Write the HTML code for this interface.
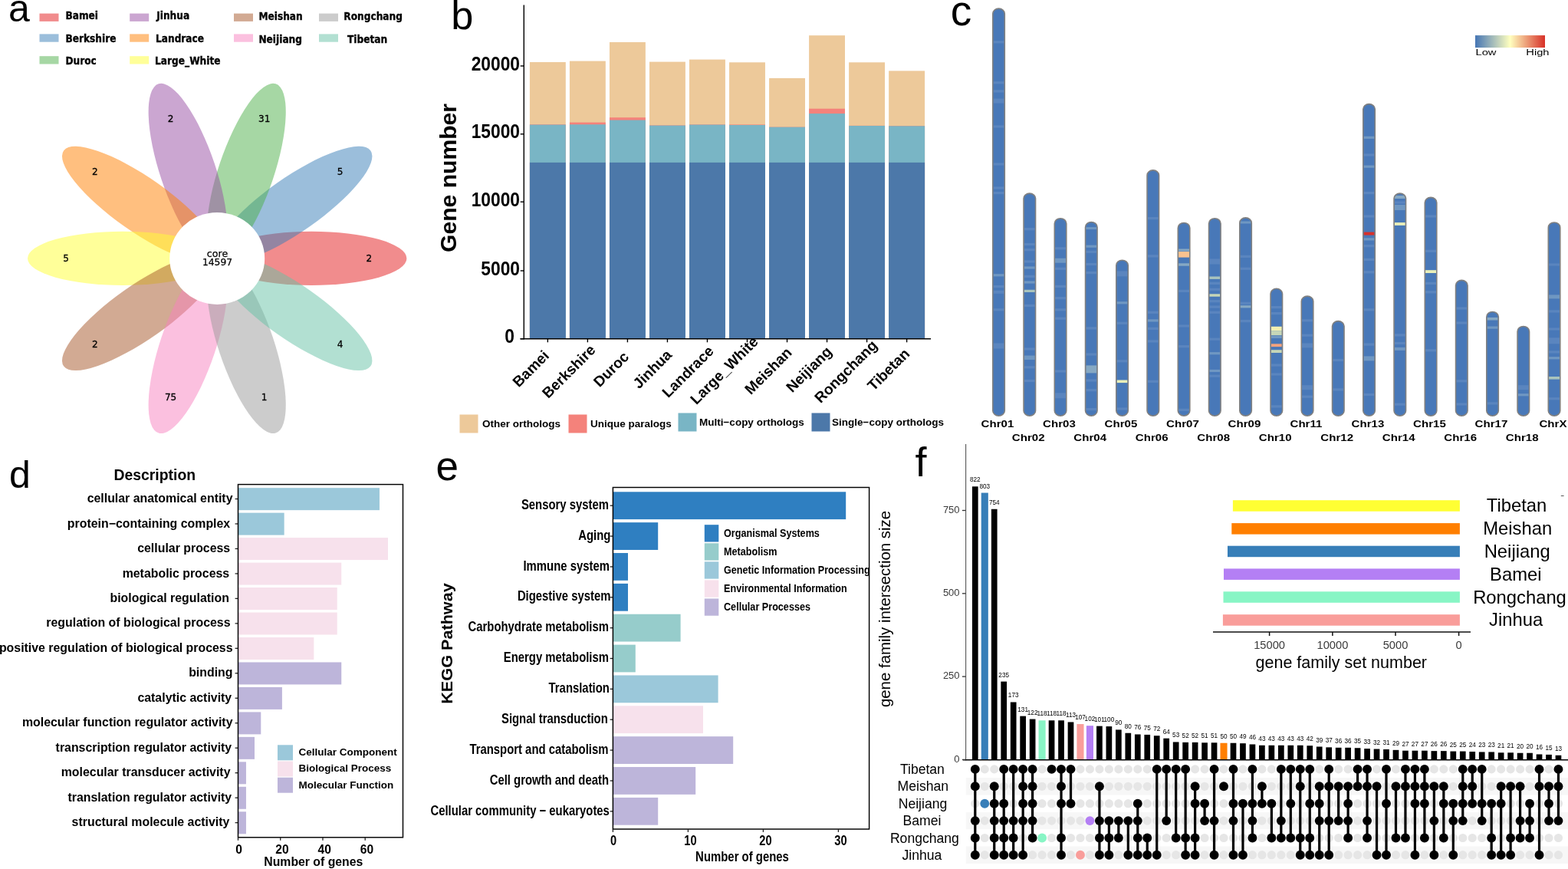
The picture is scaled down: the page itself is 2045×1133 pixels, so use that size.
<!DOCTYPE html>
<html lang="en"><head><meta charset="utf-8"><title>Pan-genome figure</title>
<style>
html,body{margin:0;padding:0;background:#fff;}
body{width:2045px;height:1133px;overflow:hidden;}
svg{display:block;}
text{font-family:"Liberation Sans",sans-serif;}
.lb{font-weight:bold;}
.d{font-family:"DejaVu Sans","Liberation Sans",sans-serif;}
.db{font-family:"DejaVu Sans","Liberation Sans",sans-serif;font-weight:bold;}
</style></head><body>
<svg width="2045" height="1133" viewBox="0 0 2045 1133">
<rect width="2045" height="1133" fill="#fff"/>
<g id="panel-a">
<text class="l" x="11.00" y="28.00" font-size="50">a</text>
<g transform="translate(283.2,336.9) scale(1,0.968)">
<ellipse cx="123" cy="0" rx="124.2" ry="36.2" fill="#E41A1C" fill-opacity="0.5" transform="rotate(0)"/>
<ellipse cx="123" cy="0" rx="124.2" ry="36.2" fill="#377EB8" fill-opacity="0.5" transform="rotate(-36)"/>
<ellipse cx="123" cy="0" rx="124.2" ry="36.2" fill="#4DAF4A" fill-opacity="0.5" transform="rotate(-72)"/>
<ellipse cx="123" cy="0" rx="124.2" ry="36.2" fill="#984EA3" fill-opacity="0.5" transform="rotate(-108)"/>
<ellipse cx="123" cy="0" rx="124.2" ry="36.2" fill="#FF7F00" fill-opacity="0.5" transform="rotate(-144)"/>
<ellipse cx="123" cy="0" rx="124.2" ry="36.2" fill="#FFFF33" fill-opacity="0.5" transform="rotate(-180)"/>
<ellipse cx="123" cy="0" rx="124.2" ry="36.2" fill="#A65628" fill-opacity="0.5" transform="rotate(-216)"/>
<ellipse cx="123" cy="0" rx="124.2" ry="36.2" fill="#F781BF" fill-opacity="0.5" transform="rotate(-252)"/>
<ellipse cx="123" cy="0" rx="124.2" ry="36.2" fill="#999999" fill-opacity="0.5" transform="rotate(-288)"/>
<ellipse cx="123" cy="0" rx="124.2" ry="36.2" fill="#66C2A5" fill-opacity="0.5" transform="rotate(-324)"/>
<circle cx="0" cy="0" r="62" fill="#fff"/>
</g>
<text class="d" x="481.20" y="340.50" font-size="12" text-anchor="middle" stroke="#000" stroke-width="0.3">2</text>
<text class="d" x="443.46" y="228.07" font-size="12" text-anchor="middle" stroke="#000" stroke-width="0.3">5</text>
<text class="d" x="344.66" y="158.58" font-size="12" text-anchor="middle" stroke="#000" stroke-width="0.3">31</text>
<text class="d" x="222.54" y="158.58" font-size="12" text-anchor="middle" stroke="#000" stroke-width="0.3">2</text>
<text class="d" x="123.74" y="228.07" font-size="12" text-anchor="middle" stroke="#000" stroke-width="0.3">2</text>
<text class="d" x="86.00" y="340.50" font-size="12" text-anchor="middle" stroke="#000" stroke-width="0.3">5</text>
<text class="d" x="123.74" y="452.93" font-size="12" text-anchor="middle" stroke="#000" stroke-width="0.3">2</text>
<text class="d" x="222.54" y="522.42" font-size="12" text-anchor="middle" stroke="#000" stroke-width="0.3">75</text>
<text class="d" x="344.66" y="522.42" font-size="12" text-anchor="middle" stroke="#000" stroke-width="0.3">1</text>
<text class="d" x="443.46" y="452.93" font-size="12" text-anchor="middle" stroke="#000" stroke-width="0.3">4</text>
<text class="d" x="283.50" y="334.90" font-size="12.6" text-anchor="middle" stroke="#000" stroke-width="0.25">core</text>
<text class="d" x="283.50" y="346.10" font-size="12.3" text-anchor="middle" stroke="#000" stroke-width="0.25">14597</text>
<rect x="51.50" y="17.60" width="25.00" height="10.30" fill="#E41A1C" fill-opacity="0.5"/>
<text class="db" transform="translate(85.40,25.20) scale(0.89,1)" font-size="13.7" stroke="#000" stroke-width="0.35">Bamei</text>
<rect x="169.20" y="17.60" width="25.00" height="10.30" fill="#984EA3" fill-opacity="0.5"/>
<text class="db" transform="translate(204.20,25.20) scale(0.89,1)" font-size="13.7" stroke="#000" stroke-width="0.35">Jinhua</text>
<rect x="305.00" y="17.60" width="25.00" height="10.30" fill="#A65628" fill-opacity="0.5"/>
<text class="db" transform="translate(337.40,26.00) scale(0.89,1)" font-size="13.7" stroke="#000" stroke-width="0.35">Meishan</text>
<rect x="416.00" y="17.60" width="25.00" height="10.30" fill="#999999" fill-opacity="0.5"/>
<text class="db" transform="translate(448.30,26.00) scale(0.89,1)" font-size="13.7" stroke="#000" stroke-width="0.35">Rongchang</text>
<rect x="51.50" y="44.40" width="25.00" height="10.30" fill="#377EB8" fill-opacity="0.5"/>
<text class="db" transform="translate(85.40,55.40) scale(0.89,1)" font-size="13.7" stroke="#000" stroke-width="0.35">Berkshire</text>
<rect x="169.20" y="44.40" width="25.00" height="10.30" fill="#FF7F00" fill-opacity="0.5"/>
<text class="db" transform="translate(203.00,55.40) scale(0.89,1)" font-size="13.7" stroke="#000" stroke-width="0.35">Landrace</text>
<rect x="305.00" y="44.40" width="25.00" height="10.30" fill="#F781BF" fill-opacity="0.5"/>
<text class="db" transform="translate(337.40,56.20) scale(0.89,1)" font-size="13.7" stroke="#000" stroke-width="0.35">Neijiang</text>
<rect x="416.00" y="44.40" width="25.00" height="10.30" fill="#66C2A5" fill-opacity="0.5"/>
<text class="db" transform="translate(453.00,56.20) scale(0.89,1)" font-size="13.7" stroke="#000" stroke-width="0.35">Tibetan</text>
<rect x="51.50" y="73.20" width="25.00" height="10.30" fill="#4DAF4A" fill-opacity="0.5"/>
<text class="db" transform="translate(85.40,84.20) scale(0.89,1)" font-size="13.7" stroke="#000" stroke-width="0.35">Duroc</text>
<rect x="169.20" y="73.20" width="25.00" height="10.30" fill="#FFFF33" fill-opacity="0.5"/>
<text class="db" transform="translate(202.10,84.20) scale(0.89,1)" font-size="13.7" stroke="#000" stroke-width="0.35">Large_White</text>
</g>
<g id="panel-b">
<text class="l" x="588.30" y="38.00" font-size="52.3">b</text>
<rect x="690.90" y="81.00" width="46.90" height="360.70" fill="#EDC99A"/>
<rect x="690.90" y="162.30" width="46.90" height="279.40" fill="#F4827B"/>
<rect x="690.90" y="162.60" width="46.90" height="279.10" fill="#79B5C5"/>
<rect x="690.90" y="211.90" width="46.90" height="229.80" fill="#4C78A9"/>
<rect x="742.93" y="79.60" width="46.90" height="362.10" fill="#EDC99A"/>
<rect x="742.93" y="159.60" width="46.90" height="282.10" fill="#F4827B"/>
<rect x="742.93" y="162.30" width="46.90" height="279.40" fill="#79B5C5"/>
<rect x="742.93" y="211.90" width="46.90" height="229.80" fill="#4C78A9"/>
<rect x="794.96" y="55.00" width="46.90" height="386.70" fill="#EDC99A"/>
<rect x="794.96" y="153.20" width="46.90" height="288.50" fill="#F4827B"/>
<rect x="794.96" y="156.60" width="46.90" height="285.10" fill="#79B5C5"/>
<rect x="794.96" y="211.90" width="46.90" height="229.80" fill="#4C78A9"/>
<rect x="846.99" y="80.60" width="46.90" height="361.10" fill="#EDC99A"/>
<rect x="846.99" y="163.40" width="46.90" height="278.30" fill="#F4827B"/>
<rect x="846.99" y="163.60" width="46.90" height="278.10" fill="#79B5C5"/>
<rect x="846.99" y="211.90" width="46.90" height="229.80" fill="#4C78A9"/>
<rect x="899.02" y="77.60" width="46.90" height="364.10" fill="#EDC99A"/>
<rect x="899.02" y="162.40" width="46.90" height="279.30" fill="#F4827B"/>
<rect x="899.02" y="162.60" width="46.90" height="279.10" fill="#79B5C5"/>
<rect x="899.02" y="211.90" width="46.90" height="229.80" fill="#4C78A9"/>
<rect x="951.05" y="81.30" width="46.90" height="360.40" fill="#EDC99A"/>
<rect x="951.05" y="162.40" width="46.90" height="279.30" fill="#F4827B"/>
<rect x="951.05" y="163.00" width="46.90" height="278.70" fill="#79B5C5"/>
<rect x="951.05" y="211.90" width="46.90" height="229.80" fill="#4C78A9"/>
<rect x="1003.08" y="101.90" width="46.90" height="339.80" fill="#EDC99A"/>
<rect x="1003.08" y="165.60" width="46.90" height="276.10" fill="#F4827B"/>
<rect x="1003.08" y="165.70" width="46.90" height="276.00" fill="#79B5C5"/>
<rect x="1003.08" y="211.90" width="46.90" height="229.80" fill="#4C78A9"/>
<rect x="1055.11" y="46.20" width="46.90" height="395.50" fill="#EDC99A"/>
<rect x="1055.11" y="141.70" width="46.90" height="300.00" fill="#F4827B"/>
<rect x="1055.11" y="148.10" width="46.90" height="293.60" fill="#79B5C5"/>
<rect x="1055.11" y="211.90" width="46.90" height="229.80" fill="#4C78A9"/>
<rect x="1107.14" y="81.30" width="46.90" height="360.40" fill="#EDC99A"/>
<rect x="1107.14" y="163.80" width="46.90" height="277.90" fill="#F4827B"/>
<rect x="1107.14" y="164.00" width="46.90" height="277.70" fill="#79B5C5"/>
<rect x="1107.14" y="211.90" width="46.90" height="229.80" fill="#4C78A9"/>
<rect x="1159.17" y="92.40" width="46.90" height="349.30" fill="#EDC99A"/>
<rect x="1159.17" y="164.10" width="46.90" height="277.60" fill="#F4827B"/>
<rect x="1159.17" y="164.30" width="46.90" height="277.40" fill="#79B5C5"/>
<rect x="1159.17" y="211.90" width="46.90" height="229.80" fill="#4C78A9"/>
<line x1="683.30" y1="6.50" x2="683.30" y2="442.40" stroke="#000" stroke-width="1.4"/>
<line x1="678.50" y1="441.70" x2="1214.00" y2="441.70" stroke="#000" stroke-width="1.4"/>
<line x1="678.70" y1="441.70" x2="683.30" y2="441.70" stroke="#000" stroke-width="1.4"/>
<text class="lb" transform="translate(671.00,447.30) scale(0.912,1)" font-size="25" text-anchor="end">0</text>
<line x1="678.70" y1="353.00" x2="683.30" y2="353.00" stroke="#000" stroke-width="1.4"/>
<text class="lb" transform="translate(678.00,358.60) scale(0.912,1)" font-size="25" text-anchor="end">5000</text>
<line x1="678.70" y1="263.20" x2="683.30" y2="263.20" stroke="#000" stroke-width="1.4"/>
<text class="lb" transform="translate(678.00,268.80) scale(0.912,1)" font-size="25" text-anchor="end">10000</text>
<line x1="678.70" y1="174.80" x2="683.30" y2="174.80" stroke="#000" stroke-width="1.4"/>
<text class="lb" transform="translate(678.00,180.40) scale(0.912,1)" font-size="25" text-anchor="end">15000</text>
<line x1="678.70" y1="86.00" x2="683.30" y2="86.00" stroke="#000" stroke-width="1.4"/>
<text class="lb" transform="translate(678.00,91.60) scale(0.912,1)" font-size="25" text-anchor="end">20000</text>
<line x1="714.35" y1="441.70" x2="714.35" y2="446.30" stroke="#000" stroke-width="1.4"/>
<text class="lb" transform="translate(696.95,485.30) rotate(-45)" font-size="19.3" text-anchor="middle">Bamei</text>
<line x1="766.38" y1="441.70" x2="766.38" y2="446.30" stroke="#000" stroke-width="1.4"/>
<text class="lb" transform="translate(746.48,488.90) rotate(-45)" font-size="19.3" text-anchor="middle">Berkshire</text>
<line x1="818.41" y1="441.70" x2="818.41" y2="446.30" stroke="#000" stroke-width="1.4"/>
<text class="lb" transform="translate(801.71,486.00) rotate(-45)" font-size="19.3" text-anchor="middle">Duroc</text>
<line x1="870.44" y1="441.70" x2="870.44" y2="446.30" stroke="#000" stroke-width="1.4"/>
<text class="lb" transform="translate(855.44,485.80) rotate(-45)" font-size="19.3" text-anchor="middle">Jinhua</text>
<line x1="922.47" y1="441.70" x2="922.47" y2="446.30" stroke="#000" stroke-width="1.4"/>
<text class="lb" transform="translate(901.77,489.20) rotate(-45)" font-size="19.3" text-anchor="middle">Landrace</text>
<line x1="974.50" y1="441.70" x2="974.50" y2="446.30" stroke="#000" stroke-width="1.4"/>
<text class="lb" transform="translate(949.20,487.50) rotate(-45)" font-size="19.3" text-anchor="middle">Large_White</text>
<line x1="1026.53" y1="441.70" x2="1026.53" y2="446.30" stroke="#000" stroke-width="1.4"/>
<text class="lb" transform="translate(1006.63,488.20) rotate(-45)" font-size="19.3" text-anchor="middle">Meishan</text>
<line x1="1078.56" y1="441.70" x2="1078.56" y2="446.30" stroke="#000" stroke-width="1.4"/>
<text class="lb" transform="translate(1059.66,486.30) rotate(-45)" font-size="19.3" text-anchor="middle">Neijiang</text>
<line x1="1130.59" y1="441.70" x2="1130.59" y2="446.30" stroke="#000" stroke-width="1.4"/>
<text class="lb" transform="translate(1107.79,489.00) rotate(-45)" font-size="19.3" text-anchor="middle">Rongchang</text>
<line x1="1182.62" y1="441.70" x2="1182.62" y2="446.30" stroke="#000" stroke-width="1.4"/>
<text class="lb" transform="translate(1163.42,486.50) rotate(-45)" font-size="19.3" text-anchor="middle">Tibetan</text>
<text class="lb" transform="translate(594.60,232.00) rotate(-90)" font-size="30.1" text-anchor="middle">Gene number</text>
<rect x="599.50" y="540.50" width="24.00" height="24.00" fill="#EDC99A"/>
<text class="lb" x="629.00" y="557.00" font-size="13.5">Other orthologs</text>
<rect x="741.50" y="540.50" width="24.00" height="24.00" fill="#F4827B"/>
<text class="lb" x="770.00" y="557.00" font-size="13.5">Unique paralogs</text>
<rect x="884.50" y="538.50" width="24.00" height="24.00" fill="#79B5C5"/>
<text class="lb" x="912.00" y="555.00" font-size="13.5">Multi−copy orthologs</text>
<rect x="1058.50" y="538.50" width="24.00" height="24.00" fill="#4C78A9"/>
<text class="lb" x="1085.00" y="555.00" font-size="13.5">Single−copy orthologs</text>
</g>
<g id="panel-c">
<text class="l" x="1239.70" y="33.30" font-size="55">c</text>
<defs><linearGradient id="lh" x1="0" x2="1" y1="0" y2="0"><stop offset="0" stop-color="#4575B4"/><stop offset="0.5" stop-color="#FFFFBF"/><stop offset="1" stop-color="#D73027"/></linearGradient></defs>
<rect x="1924.00" y="46.10" width="91.00" height="16.00" fill="url(#lh)"/>
<text class="l" transform="translate(1924.50,72.00) scale(1.28,1)" font-size="11.5">Low</text>
<text class="l" transform="translate(2020.50,72.00) scale(1.28,1)" font-size="11.5" text-anchor="end">High</text>
<clipPath id="cc0"><rect x="1294.80" y="11.10" width="15.5" height="531.10" rx="7.75" ry="6.75"/></clipPath>
<g clip-path="url(#cc0)">
<rect x="1294.80" y="11.10" width="15.50" height="531.10" fill="#4878B8"/>
<rect x="1295.50" y="53.20" width="14.10" height="3.20" fill="#5a85bf"/>
<rect x="1295.50" y="106.20" width="14.10" height="3.20" fill="#5a85bf"/>
<rect x="1295.50" y="117.30" width="14.10" height="3.20" fill="#5a85bf"/>
<rect x="1295.50" y="128.60" width="14.10" height="6.00" fill="#5a85bf"/>
<rect x="1295.50" y="163.40" width="14.10" height="3.20" fill="#5a85bf"/>
<rect x="1295.50" y="212.40" width="14.10" height="3.20" fill="#5a85bf"/>
<rect x="1295.50" y="243.40" width="14.10" height="3.20" fill="#5a85bf"/>
<rect x="1295.50" y="250.00" width="14.10" height="3.20" fill="#5a85bf"/>
<rect x="1295.50" y="357.20" width="14.10" height="3.20" fill="#6f97c2"/>
<rect x="1295.50" y="372.00" width="14.10" height="3.20" fill="#5a85bf"/>
<rect x="1295.50" y="378.80" width="14.10" height="4.00" fill="#5a85bf"/>
<rect x="1295.50" y="402.20" width="14.10" height="3.20" fill="#5a85bf"/>
<rect x="1295.50" y="447.50" width="14.10" height="7.00" fill="#5a85bf"/>
</g>
<rect x="1294.80" y="11.10" width="15.5" height="531.10" rx="7.75" ry="6.75" fill="none" stroke="#808080" stroke-width="1.6"/>
<text class="lb" transform="translate(1300.95,557.20) scale(1.255,1)" font-size="12" text-anchor="middle">Chr01</text>
<clipPath id="cc1"><rect x="1335.05" y="252.10" width="15.5" height="290.10" rx="7.75" ry="6.75"/></clipPath>
<g clip-path="url(#cc1)">
<rect x="1335.05" y="252.10" width="15.50" height="290.10" fill="#4878B8"/>
<rect x="1335.75" y="297.10" width="14.10" height="3.20" fill="#5a85bf"/>
<rect x="1335.75" y="316.90" width="14.10" height="3.20" fill="#5a85bf"/>
<rect x="1335.75" y="324.10" width="14.10" height="3.20" fill="#5a85bf"/>
<rect x="1335.75" y="339.40" width="14.10" height="3.20" fill="#5a85bf"/>
<rect x="1335.75" y="347.40" width="14.10" height="3.20" fill="#6f97c2"/>
<rect x="1335.75" y="358.80" width="14.10" height="3.20" fill="#5a85bf"/>
<rect x="1335.75" y="366.40" width="14.10" height="3.20" fill="#6f97c2"/>
<rect x="1335.75" y="377.80" width="14.10" height="3.20" fill="#a9c4bd"/>
<rect x="1335.75" y="396.90" width="14.10" height="3.20" fill="#5a85bf"/>
<rect x="1335.75" y="453.40" width="14.10" height="3.20" fill="#5a85bf"/>
<rect x="1335.75" y="463.55" width="14.10" height="5.50" fill="#6f97c2"/>
<rect x="1335.75" y="477.20" width="14.10" height="3.20" fill="#5a85bf"/>
<rect x="1335.75" y="494.90" width="14.10" height="3.20" fill="#5a85bf"/>
</g>
<rect x="1335.05" y="252.10" width="15.5" height="290.10" rx="7.75" ry="6.75" fill="none" stroke="#808080" stroke-width="1.6"/>
<text class="lb" transform="translate(1341.20,575.40) scale(1.255,1)" font-size="12" text-anchor="middle">Chr02</text>
<clipPath id="cc2"><rect x="1375.30" y="284.70" width="15.5" height="257.50" rx="7.75" ry="6.75"/></clipPath>
<g clip-path="url(#cc2)">
<rect x="1375.30" y="284.70" width="15.50" height="257.50" fill="#4878B8"/>
<rect x="1376.00" y="322.20" width="14.10" height="3.20" fill="#5a85bf"/>
<rect x="1376.00" y="336.70" width="14.10" height="6.00" fill="#6f97c2"/>
<rect x="1376.00" y="348.70" width="14.10" height="3.20" fill="#5a85bf"/>
<rect x="1376.00" y="371.80" width="14.10" height="3.20" fill="#5a85bf"/>
<rect x="1376.00" y="387.10" width="14.10" height="3.20" fill="#5a85bf"/>
<rect x="1376.00" y="402.20" width="14.10" height="3.20" fill="#5a85bf"/>
<rect x="1376.00" y="413.60" width="14.10" height="3.20" fill="#5a85bf"/>
<rect x="1376.00" y="482.40" width="14.10" height="3.20" fill="#5a85bf"/>
<rect x="1376.00" y="512.30" width="14.10" height="7.00" fill="#5a85bf"/>
</g>
<rect x="1375.30" y="284.70" width="15.5" height="257.50" rx="7.75" ry="6.75" fill="none" stroke="#808080" stroke-width="1.6"/>
<text class="lb" transform="translate(1381.45,557.20) scale(1.255,1)" font-size="12" text-anchor="middle">Chr03</text>
<clipPath id="cc3"><rect x="1415.55" y="289.50" width="15.5" height="252.70" rx="7.75" ry="6.75"/></clipPath>
<g clip-path="url(#cc3)">
<rect x="1415.55" y="289.50" width="15.50" height="252.70" fill="#4878B8"/>
<rect x="1416.25" y="296.10" width="14.10" height="3.00" fill="#6f97c2"/>
<rect x="1416.25" y="319.60" width="14.10" height="3.20" fill="#6f97c2"/>
<rect x="1416.25" y="326.70" width="14.10" height="3.20" fill="#5a85bf"/>
<rect x="1416.25" y="342.90" width="14.10" height="3.20" fill="#5a85bf"/>
<rect x="1416.25" y="354.00" width="14.10" height="3.20" fill="#5a85bf"/>
<rect x="1416.25" y="426.30" width="14.10" height="3.20" fill="#5a85bf"/>
<rect x="1416.25" y="460.40" width="14.10" height="3.20" fill="#5a85bf"/>
<rect x="1416.25" y="476.40" width="14.10" height="10.00" fill="#86a8c3"/>
<rect x="1416.25" y="494.40" width="14.10" height="3.20" fill="#5a85bf"/>
<rect x="1416.25" y="507.10" width="14.10" height="3.20" fill="#5a85bf"/>
<rect x="1416.25" y="532.00" width="14.10" height="3.20" fill="#5a85bf"/>
</g>
<rect x="1415.55" y="289.50" width="15.5" height="252.70" rx="7.75" ry="6.75" fill="none" stroke="#808080" stroke-width="1.6"/>
<text class="lb" transform="translate(1421.70,575.40) scale(1.255,1)" font-size="12" text-anchor="middle">Chr04</text>
<clipPath id="cc4"><rect x="1455.80" y="339.20" width="15.5" height="203.00" rx="7.75" ry="6.75"/></clipPath>
<g clip-path="url(#cc4)">
<rect x="1455.80" y="339.20" width="15.50" height="203.00" fill="#4878B8"/>
<rect x="1456.50" y="353.40" width="14.10" height="7.00" fill="#5a85bf"/>
<rect x="1456.50" y="393.20" width="14.10" height="3.20" fill="#6f97c2"/>
<rect x="1456.50" y="419.70" width="14.10" height="3.20" fill="#5a85bf"/>
<rect x="1456.50" y="469.20" width="14.10" height="3.20" fill="#5a85bf"/>
<rect x="1456.50" y="495.50" width="14.10" height="3.60" fill="#e9efb9"/>
<rect x="1456.50" y="531.40" width="14.10" height="3.20" fill="#5a85bf"/>
</g>
<rect x="1455.80" y="339.20" width="15.5" height="203.00" rx="7.75" ry="6.75" fill="none" stroke="#808080" stroke-width="1.6"/>
<text class="lb" transform="translate(1461.95,557.20) scale(1.255,1)" font-size="12" text-anchor="middle">Chr05</text>
<clipPath id="cc5"><rect x="1496.05" y="221.90" width="15.5" height="320.30" rx="7.75" ry="6.75"/></clipPath>
<g clip-path="url(#cc5)">
<rect x="1496.05" y="221.90" width="15.50" height="320.30" fill="#4878B8"/>
<rect x="1496.75" y="283.00" width="14.10" height="3.20" fill="#5a85bf"/>
<rect x="1496.75" y="332.30" width="14.10" height="3.20" fill="#5a85bf"/>
<rect x="1496.75" y="405.70" width="14.10" height="3.20" fill="#5a85bf"/>
<rect x="1496.75" y="416.30" width="14.10" height="3.20" fill="#6f97c2"/>
<rect x="1496.75" y="426.80" width="14.10" height="3.20" fill="#5a85bf"/>
<rect x="1496.75" y="443.30" width="14.10" height="3.20" fill="#5a85bf"/>
<rect x="1496.75" y="495.70" width="14.10" height="3.20" fill="#5a85bf"/>
</g>
<rect x="1496.05" y="221.90" width="15.5" height="320.30" rx="7.75" ry="6.75" fill="none" stroke="#808080" stroke-width="1.6"/>
<text class="lb" transform="translate(1502.20,575.40) scale(1.255,1)" font-size="12" text-anchor="middle">Chr06</text>
<clipPath id="cc6"><rect x="1536.30" y="290.50" width="15.5" height="251.70" rx="7.75" ry="6.75"/></clipPath>
<g clip-path="url(#cc6)">
<rect x="1536.30" y="290.50" width="15.50" height="251.70" fill="#4878B8"/>
<rect x="1537.00" y="324.50" width="14.10" height="3.00" fill="#86a8c3"/>
<rect x="1537.00" y="328.00" width="14.10" height="7.60" fill="#f9c28f"/>
<rect x="1537.00" y="343.30" width="14.10" height="3.40" fill="#86a8c3"/>
<rect x="1537.00" y="377.80" width="14.10" height="3.20" fill="#5a85bf"/>
<rect x="1537.00" y="423.40" width="14.10" height="3.20" fill="#5a85bf"/>
<rect x="1537.00" y="450.10" width="14.10" height="3.20" fill="#5a85bf"/>
<rect x="1537.00" y="532.80" width="14.10" height="3.20" fill="#5a85bf"/>
</g>
<rect x="1536.30" y="290.50" width="15.5" height="251.70" rx="7.75" ry="6.75" fill="none" stroke="#808080" stroke-width="1.6"/>
<text class="lb" transform="translate(1542.45,557.20) scale(1.255,1)" font-size="12" text-anchor="middle">Chr07</text>
<clipPath id="cc7"><rect x="1576.55" y="284.70" width="15.5" height="257.50" rx="7.75" ry="6.75"/></clipPath>
<g clip-path="url(#cc7)">
<rect x="1576.55" y="284.70" width="15.50" height="257.50" fill="#4878B8"/>
<rect x="1577.25" y="337.50" width="14.10" height="7.00" fill="#5a85bf"/>
<rect x="1577.25" y="360.50" width="14.10" height="3.40" fill="#a9c4bd"/>
<rect x="1577.25" y="367.80" width="14.10" height="3.20" fill="#5a85bf"/>
<rect x="1577.25" y="375.70" width="14.10" height="3.20" fill="#5a85bf"/>
<rect x="1577.25" y="383.30" width="14.10" height="3.40" fill="#c6d6b7"/>
<rect x="1577.25" y="391.10" width="14.10" height="3.20" fill="#5a85bf"/>
<rect x="1577.25" y="398.50" width="14.10" height="3.20" fill="#5a85bf"/>
<rect x="1577.25" y="405.70" width="14.10" height="3.20" fill="#5a85bf"/>
<rect x="1577.25" y="440.60" width="14.10" height="3.20" fill="#5a85bf"/>
<rect x="1577.25" y="459.10" width="14.10" height="3.20" fill="#6f97c2"/>
<rect x="1577.25" y="481.90" width="14.10" height="3.20" fill="#6f97c2"/>
<rect x="1577.25" y="488.60" width="14.10" height="3.20" fill="#5a85bf"/>
</g>
<rect x="1576.55" y="284.70" width="15.5" height="257.50" rx="7.75" ry="6.75" fill="none" stroke="#808080" stroke-width="1.6"/>
<text class="lb" transform="translate(1582.70,575.40) scale(1.255,1)" font-size="12" text-anchor="middle">Chr08</text>
<clipPath id="cc8"><rect x="1616.80" y="283.90" width="15.5" height="258.30" rx="7.75" ry="6.75"/></clipPath>
<g clip-path="url(#cc8)">
<rect x="1616.80" y="283.90" width="15.50" height="258.30" fill="#4878B8"/>
<rect x="1617.50" y="288.50" width="14.10" height="3.00" fill="#6f97c2"/>
<rect x="1617.50" y="332.80" width="14.10" height="3.20" fill="#5a85bf"/>
<rect x="1617.50" y="348.70" width="14.10" height="3.20" fill="#5a85bf"/>
<rect x="1617.50" y="393.70" width="14.10" height="3.20" fill="#5a85bf"/>
<rect x="1617.50" y="398.20" width="14.10" height="3.20" fill="#86a8c3"/>
<rect x="1617.50" y="417.00" width="14.10" height="3.20" fill="#5a85bf"/>
</g>
<rect x="1616.80" y="283.90" width="15.5" height="258.30" rx="7.75" ry="6.75" fill="none" stroke="#808080" stroke-width="1.6"/>
<text class="lb" transform="translate(1622.95,557.20) scale(1.255,1)" font-size="12" text-anchor="middle">Chr09</text>
<clipPath id="cc9"><rect x="1657.05" y="376.30" width="15.5" height="165.90" rx="7.75" ry="6.75"/></clipPath>
<g clip-path="url(#cc9)">
<rect x="1657.05" y="376.30" width="15.50" height="165.90" fill="#4878B8"/>
<rect x="1657.75" y="399.00" width="14.10" height="3.20" fill="#5a85bf"/>
<rect x="1657.75" y="407.00" width="14.10" height="3.20" fill="#5a85bf"/>
<rect x="1657.75" y="425.75" width="14.10" height="5.50" fill="#f3f0b0"/>
<rect x="1657.75" y="431.20" width="14.10" height="6.00" fill="#c6d6b7"/>
<rect x="1657.75" y="438.00" width="14.10" height="3.00" fill="#6f97c2"/>
<rect x="1657.75" y="448.30" width="14.10" height="3.80" fill="#f4a27d"/>
<rect x="1657.75" y="456.20" width="14.10" height="3.80" fill="#c6d6b7"/>
<rect x="1657.75" y="474.50" width="14.10" height="3.20" fill="#5a85bf"/>
<rect x="1657.75" y="486.40" width="14.10" height="3.20" fill="#5a85bf"/>
<rect x="1657.75" y="528.30" width="14.10" height="3.20" fill="#5a85bf"/>
</g>
<rect x="1657.05" y="376.30" width="15.5" height="165.90" rx="7.75" ry="6.75" fill="none" stroke="#808080" stroke-width="1.6"/>
<text class="lb" transform="translate(1663.20,575.40) scale(1.255,1)" font-size="12" text-anchor="middle">Chr10</text>
<clipPath id="cc10"><rect x="1697.30" y="386.10" width="15.5" height="156.10" rx="7.75" ry="6.75"/></clipPath>
<g clip-path="url(#cc10)">
<rect x="1697.30" y="386.10" width="15.50" height="156.10" fill="#4878B8"/>
<rect x="1698.00" y="416.20" width="14.10" height="3.20" fill="#5a85bf"/>
<rect x="1698.00" y="435.60" width="14.10" height="3.20" fill="#5a85bf"/>
<rect x="1698.00" y="447.40" width="14.10" height="6.00" fill="#5a85bf"/>
<rect x="1698.00" y="502.20" width="14.10" height="6.00" fill="#5a85bf"/>
<rect x="1698.00" y="515.60" width="14.10" height="3.20" fill="#5a85bf"/>
</g>
<rect x="1697.30" y="386.10" width="15.5" height="156.10" rx="7.75" ry="6.75" fill="none" stroke="#808080" stroke-width="1.6"/>
<text class="lb" transform="translate(1703.45,557.20) scale(1.255,1)" font-size="12" text-anchor="middle">Chr11</text>
<clipPath id="cc11"><rect x="1737.55" y="418.60" width="15.5" height="123.60" rx="7.75" ry="6.75"/></clipPath>
<g clip-path="url(#cc11)">
<rect x="1737.55" y="418.60" width="15.50" height="123.60" fill="#4878B8"/>
<rect x="1738.25" y="467.90" width="14.10" height="3.20" fill="#5a85bf"/>
<rect x="1738.25" y="506.30" width="14.10" height="3.20" fill="#5a85bf"/>
</g>
<rect x="1737.55" y="418.60" width="15.5" height="123.60" rx="7.75" ry="6.75" fill="none" stroke="#808080" stroke-width="1.6"/>
<text class="lb" transform="translate(1743.70,575.40) scale(1.255,1)" font-size="12" text-anchor="middle">Chr12</text>
<clipPath id="cc12"><rect x="1777.80" y="135.60" width="15.5" height="406.60" rx="7.75" ry="6.75"/></clipPath>
<g clip-path="url(#cc12)">
<rect x="1777.80" y="135.60" width="15.50" height="406.60" fill="#4878B8"/>
<rect x="1778.50" y="177.70" width="14.10" height="3.20" fill="#6f97c2"/>
<rect x="1778.50" y="200.40" width="14.10" height="3.20" fill="#5a85bf"/>
<rect x="1778.50" y="215.60" width="14.10" height="3.20" fill="#6f97c2"/>
<rect x="1778.50" y="250.00" width="14.10" height="3.20" fill="#5a85bf"/>
<rect x="1778.50" y="280.40" width="14.10" height="3.20" fill="#5a85bf"/>
<rect x="1778.50" y="302.60" width="14.10" height="4.00" fill="#d7302a"/>
<rect x="1778.50" y="310.30" width="14.10" height="3.20" fill="#6f97c2"/>
<rect x="1778.50" y="319.10" width="14.10" height="3.20" fill="#5a85bf"/>
<rect x="1778.50" y="336.80" width="14.10" height="3.20" fill="#5a85bf"/>
<rect x="1778.50" y="353.20" width="14.10" height="3.20" fill="#5a85bf"/>
<rect x="1778.50" y="402.20" width="14.10" height="3.20" fill="#5a85bf"/>
<rect x="1778.50" y="447.50" width="14.10" height="3.20" fill="#5a85bf"/>
<rect x="1778.50" y="464.40" width="14.10" height="6.00" fill="#6f97c2"/>
<rect x="1778.50" y="512.90" width="14.10" height="3.20" fill="#5a85bf"/>
</g>
<rect x="1777.80" y="135.60" width="15.5" height="406.60" rx="7.75" ry="6.75" fill="none" stroke="#808080" stroke-width="1.6"/>
<text class="lb" transform="translate(1783.95,557.20) scale(1.255,1)" font-size="12" text-anchor="middle">Chr13</text>
<clipPath id="cc13"><rect x="1818.05" y="252.10" width="15.5" height="290.10" rx="7.75" ry="6.75"/></clipPath>
<g clip-path="url(#cc13)">
<rect x="1818.05" y="252.10" width="15.50" height="290.10" fill="#4878B8"/>
<rect x="1818.75" y="255.00" width="14.10" height="4.00" fill="#86a8c3"/>
<rect x="1818.75" y="262.40" width="14.10" height="3.20" fill="#5a85bf"/>
<rect x="1818.75" y="267.00" width="14.10" height="7.00" fill="#6f97c2"/>
<rect x="1818.75" y="290.10" width="14.10" height="3.80" fill="#e9efb9"/>
<rect x="1818.75" y="435.30" width="14.10" height="3.20" fill="#5a85bf"/>
<rect x="1818.75" y="445.90" width="14.10" height="3.20" fill="#5a85bf"/>
<rect x="1818.75" y="452.90" width="14.10" height="4.00" fill="#6f97c2"/>
<rect x="1818.75" y="525.60" width="14.10" height="3.20" fill="#5a85bf"/>
</g>
<rect x="1818.05" y="252.10" width="15.5" height="290.10" rx="7.75" ry="6.75" fill="none" stroke="#808080" stroke-width="1.6"/>
<text class="lb" transform="translate(1824.20,575.40) scale(1.255,1)" font-size="12" text-anchor="middle">Chr14</text>
<clipPath id="cc14"><rect x="1858.30" y="257.40" width="15.5" height="284.80" rx="7.75" ry="6.75"/></clipPath>
<g clip-path="url(#cc14)">
<rect x="1858.30" y="257.40" width="15.50" height="284.80" fill="#4878B8"/>
<rect x="1859.00" y="280.40" width="14.10" height="3.20" fill="#5a85bf"/>
<rect x="1859.00" y="325.70" width="14.10" height="3.20" fill="#5a85bf"/>
<rect x="1859.00" y="352.20" width="14.10" height="3.80" fill="#e9efb9"/>
<rect x="1859.00" y="367.80" width="14.10" height="3.20" fill="#5a85bf"/>
<rect x="1859.00" y="379.20" width="14.10" height="3.20" fill="#5a85bf"/>
<rect x="1859.00" y="455.20" width="14.10" height="3.20" fill="#5a85bf"/>
</g>
<rect x="1858.30" y="257.40" width="15.5" height="284.80" rx="7.75" ry="6.75" fill="none" stroke="#808080" stroke-width="1.6"/>
<text class="lb" transform="translate(1864.45,557.20) scale(1.255,1)" font-size="12" text-anchor="middle">Chr15</text>
<clipPath id="cc15"><rect x="1898.55" y="365.40" width="15.5" height="176.80" rx="7.75" ry="6.75"/></clipPath>
<g clip-path="url(#cc15)">
<rect x="1898.55" y="365.40" width="15.50" height="176.80" fill="#4878B8"/>
<rect x="1899.25" y="400.40" width="14.10" height="3.20" fill="#5a85bf"/>
<rect x="1899.25" y="419.40" width="14.10" height="3.20" fill="#5a85bf"/>
<rect x="1899.25" y="495.20" width="14.10" height="3.20" fill="#5a85bf"/>
<rect x="1899.25" y="525.40" width="14.10" height="3.20" fill="#5a85bf"/>
</g>
<rect x="1898.55" y="365.40" width="15.5" height="176.80" rx="7.75" ry="6.75" fill="none" stroke="#808080" stroke-width="1.6"/>
<text class="lb" transform="translate(1904.70,575.40) scale(1.255,1)" font-size="12" text-anchor="middle">Chr16</text>
<clipPath id="cc16"><rect x="1938.80" y="406.50" width="15.5" height="135.70" rx="7.75" ry="6.75"/></clipPath>
<g clip-path="url(#cc16)">
<rect x="1938.80" y="406.50" width="15.50" height="135.70" fill="#4878B8"/>
<rect x="1939.50" y="413.90" width="14.10" height="3.60" fill="#86a8c3"/>
<rect x="1939.50" y="425.50" width="14.10" height="3.20" fill="#6f97c2"/>
<rect x="1939.50" y="524.30" width="14.10" height="3.20" fill="#5a85bf"/>
</g>
<rect x="1938.80" y="406.50" width="15.5" height="135.70" rx="7.75" ry="6.75" fill="none" stroke="#808080" stroke-width="1.6"/>
<text class="lb" transform="translate(1944.95,557.20) scale(1.255,1)" font-size="12" text-anchor="middle">Chr17</text>
<clipPath id="cc17"><rect x="1979.05" y="425.50" width="15.5" height="116.70" rx="7.75" ry="6.75"/></clipPath>
<g clip-path="url(#cc17)">
<rect x="1979.05" y="425.50" width="15.50" height="116.70" fill="#4878B8"/>
<rect x="1979.75" y="502.20" width="14.10" height="6.00" fill="#5a85bf"/>
<rect x="1979.75" y="513.20" width="14.10" height="3.20" fill="#6f97c2"/>
</g>
<rect x="1979.05" y="425.50" width="15.5" height="116.70" rx="7.75" ry="6.75" fill="none" stroke="#808080" stroke-width="1.6"/>
<text class="lb" transform="translate(1985.20,575.40) scale(1.255,1)" font-size="12" text-anchor="middle">Chr18</text>
<clipPath id="cc18"><rect x="2019.30" y="290.00" width="15.5" height="252.20" rx="7.75" ry="6.75"/></clipPath>
<g clip-path="url(#cc18)">
<rect x="2019.30" y="290.00" width="15.50" height="252.20" fill="#4878B8"/>
<rect x="2020.00" y="343.40" width="14.10" height="3.20" fill="#5a85bf"/>
<rect x="2020.00" y="384.40" width="14.10" height="5.00" fill="#6f97c2"/>
<rect x="2020.00" y="404.30" width="14.10" height="3.20" fill="#5a85bf"/>
<rect x="2020.00" y="427.40" width="14.10" height="3.20" fill="#5a85bf"/>
<rect x="2020.00" y="440.30" width="14.10" height="8.00" fill="#5a85bf"/>
<rect x="2020.00" y="457.30" width="14.10" height="3.20" fill="#5a85bf"/>
<rect x="2020.00" y="465.20" width="14.10" height="3.20" fill="#6f97c2"/>
<rect x="2020.00" y="491.00" width="14.10" height="3.60" fill="#a9c4bd"/>
<rect x="2020.00" y="518.20" width="14.10" height="3.20" fill="#5a85bf"/>
</g>
<rect x="2019.30" y="290.00" width="15.5" height="252.20" rx="7.75" ry="6.75" fill="none" stroke="#808080" stroke-width="1.6"/>
<text class="lb" transform="translate(2025.45,557.20) scale(1.255,1)" font-size="12" text-anchor="middle">ChrX</text>
</g>
<g id="panel-d">
<text class="l" x="12.00" y="636.00" font-size="50">d</text>
<text class="lb" x="201.80" y="626.00" font-size="19.4" text-anchor="middle">Description</text>
<rect x="310.50" y="636.15" width="184.45" height="29.00" fill="#9BC8DA"/>
<line x1="306.60" y1="650.50" x2="310.50" y2="650.50" stroke="#222" stroke-width="1.3"/>
<text class="lb" x="303.50" y="655.10" font-size="15.9" text-anchor="end">cellular anatomical entity</text>
<rect x="310.50" y="668.62" width="60.16" height="29.00" fill="#9BC8DA"/>
<line x1="306.60" y1="682.97" x2="310.50" y2="682.97" stroke="#222" stroke-width="1.3"/>
<text class="lb" x="300.20" y="687.57" font-size="15.9" text-anchor="end">protein−containing complex</text>
<rect x="310.50" y="701.09" width="195.50" height="29.00" fill="#F7E1EC"/>
<line x1="306.60" y1="715.44" x2="310.50" y2="715.44" stroke="#222" stroke-width="1.3"/>
<text class="lb" x="300.20" y="720.04" font-size="15.9" text-anchor="end">cellular process</text>
<rect x="310.50" y="733.56" width="134.74" height="29.00" fill="#F7E1EC"/>
<line x1="306.60" y1="747.91" x2="310.50" y2="747.91" stroke="#222" stroke-width="1.3"/>
<text class="lb" x="299.20" y="752.51" font-size="15.9" text-anchor="end">metabolic process</text>
<rect x="310.50" y="766.03" width="129.21" height="29.00" fill="#F7E1EC"/>
<line x1="306.60" y1="780.38" x2="310.50" y2="780.38" stroke="#222" stroke-width="1.3"/>
<text class="lb" x="298.90" y="784.98" font-size="15.9" text-anchor="end">biological regulation</text>
<rect x="310.50" y="798.50" width="129.21" height="29.00" fill="#F7E1EC"/>
<line x1="306.60" y1="812.85" x2="310.50" y2="812.85" stroke="#222" stroke-width="1.3"/>
<text class="lb" x="300.50" y="817.45" font-size="15.9" text-anchor="end">regulation of biological process</text>
<rect x="310.50" y="830.97" width="98.83" height="29.00" fill="#F7E1EC"/>
<line x1="306.60" y1="845.32" x2="310.50" y2="845.32" stroke="#222" stroke-width="1.3"/>
<text class="lb" x="303.50" y="849.92" font-size="15.9" text-anchor="end">positive regulation of biological process</text>
<rect x="310.50" y="863.44" width="134.74" height="29.00" fill="#BDB5DA"/>
<line x1="306.60" y1="877.79" x2="310.50" y2="877.79" stroke="#222" stroke-width="1.3"/>
<text class="lb" x="303.50" y="882.39" font-size="15.9" text-anchor="end">binding</text>
<rect x="310.50" y="895.91" width="57.40" height="29.00" fill="#BDB5DA"/>
<line x1="306.60" y1="910.26" x2="310.50" y2="910.26" stroke="#222" stroke-width="1.3"/>
<text class="lb" x="302.20" y="914.86" font-size="15.9" text-anchor="end">catalytic activity</text>
<rect x="310.50" y="928.38" width="29.78" height="29.00" fill="#BDB5DA"/>
<line x1="306.60" y1="942.73" x2="310.50" y2="942.73" stroke="#222" stroke-width="1.3"/>
<text class="lb" x="303.50" y="947.33" font-size="15.9" text-anchor="end">molecular function regulator activity</text>
<rect x="310.50" y="960.85" width="21.50" height="29.00" fill="#BDB5DA"/>
<line x1="306.60" y1="975.20" x2="310.50" y2="975.20" stroke="#222" stroke-width="1.3"/>
<text class="lb" x="302.20" y="979.80" font-size="15.9" text-anchor="end">transcription regulator activity</text>
<rect x="310.50" y="993.32" width="10.45" height="29.00" fill="#BDB5DA"/>
<line x1="306.60" y1="1007.67" x2="310.50" y2="1007.67" stroke="#222" stroke-width="1.3"/>
<text class="lb" x="300.50" y="1012.27" font-size="15.9" text-anchor="end">molecular transducer activity</text>
<rect x="310.50" y="1025.79" width="10.45" height="29.00" fill="#BDB5DA"/>
<line x1="306.60" y1="1040.14" x2="310.50" y2="1040.14" stroke="#222" stroke-width="1.3"/>
<text class="lb" x="302.20" y="1044.74" font-size="15.9" text-anchor="end">translation regulator activity</text>
<rect x="310.50" y="1058.26" width="10.45" height="29.00" fill="#BDB5DA"/>
<line x1="306.60" y1="1072.61" x2="310.50" y2="1072.61" stroke="#222" stroke-width="1.3"/>
<text class="lb" x="299.40" y="1077.21" font-size="15.9" text-anchor="end">structural molecule activity</text>
<rect x="310.5" y="631.6" width="215" height="460.2" fill="none" stroke="#000" stroke-width="1.45"/>
<line x1="310.50" y1="1091.80" x2="310.50" y2="1095.70" stroke="#222" stroke-width="1.3"/>
<text class="lb" x="311.70" y="1113.40" font-size="15.6" text-anchor="middle">0</text>
<line x1="365.74" y1="1091.80" x2="365.74" y2="1095.70" stroke="#222" stroke-width="1.3"/>
<text class="lb" x="367.94" y="1113.40" font-size="15.6" text-anchor="middle">20</text>
<line x1="420.98" y1="1091.80" x2="420.98" y2="1095.70" stroke="#222" stroke-width="1.3"/>
<text class="lb" x="423.18" y="1113.40" font-size="15.6" text-anchor="middle">40</text>
<line x1="476.22" y1="1091.80" x2="476.22" y2="1095.70" stroke="#222" stroke-width="1.3"/>
<text class="lb" x="478.42" y="1113.40" font-size="15.6" text-anchor="middle">60</text>
<text class="lb" x="408.80" y="1128.80" font-size="15.8" text-anchor="middle">Number of genes</text>
<rect x="362.00" y="971.30" width="20.00" height="20.00" fill="#9BC8DA"/>
<text class="lb" x="389.40" y="984.60" font-size="13.5">Cellular Component</text>
<rect x="362.00" y="992.50" width="20.00" height="20.00" fill="#F7E1EC"/>
<text class="lb" x="389.40" y="1005.60" font-size="13.5">Biological Process</text>
<rect x="362.00" y="1013.70" width="20.00" height="20.00" fill="#BDB5DA"/>
<text class="lb" x="389.40" y="1027.70" font-size="13.5">Molecular Function</text>
</g>
<g id="panel-e">
<text class="l" x="568.60" y="625.60" font-size="53">e</text>
<rect x="799.40" y="641.30" width="303.80" height="35.80" fill="#2F7FC1"/>
<line x1="795.60" y1="659.20" x2="799.40" y2="659.20" stroke="#222" stroke-width="1.3"/>
<text class="lb" transform="translate(794.00,663.90) scale(0.818,1)" font-size="18.2" text-anchor="end">Sensory system</text>
<rect x="799.40" y="681.16" width="58.80" height="35.80" fill="#2F7FC1"/>
<line x1="795.60" y1="699.06" x2="799.40" y2="699.06" stroke="#222" stroke-width="1.3"/>
<text class="lb" transform="translate(796.40,703.76) scale(0.818,1)" font-size="18.2" text-anchor="end">Aging</text>
<rect x="799.40" y="721.02" width="19.60" height="35.80" fill="#2F7FC1"/>
<line x1="795.60" y1="738.92" x2="799.40" y2="738.92" stroke="#222" stroke-width="1.3"/>
<text class="lb" transform="translate(794.90,743.62) scale(0.818,1)" font-size="18.2" text-anchor="end">Immune system</text>
<rect x="799.40" y="760.88" width="19.60" height="35.80" fill="#2F7FC1"/>
<line x1="795.60" y1="778.78" x2="799.40" y2="778.78" stroke="#222" stroke-width="1.3"/>
<text class="lb" transform="translate(796.40,783.48) scale(0.818,1)" font-size="18.2" text-anchor="end">Digestive system</text>
<rect x="799.40" y="800.74" width="88.20" height="35.80" fill="#96CCCB"/>
<line x1="795.60" y1="818.64" x2="799.40" y2="818.64" stroke="#222" stroke-width="1.3"/>
<text class="lb" transform="translate(794.00,823.34) scale(0.818,1)" font-size="18.2" text-anchor="end">Carbohydrate metabolism</text>
<rect x="799.40" y="840.60" width="29.40" height="35.80" fill="#96CCCB"/>
<line x1="795.60" y1="858.50" x2="799.40" y2="858.50" stroke="#222" stroke-width="1.3"/>
<text class="lb" transform="translate(794.00,863.20) scale(0.818,1)" font-size="18.2" text-anchor="end">Energy metabolism</text>
<rect x="799.40" y="880.46" width="137.20" height="35.80" fill="#9BC8DA"/>
<line x1="795.60" y1="898.36" x2="799.40" y2="898.36" stroke="#222" stroke-width="1.3"/>
<text class="lb" transform="translate(794.90,903.06) scale(0.818,1)" font-size="18.2" text-anchor="end">Translation</text>
<rect x="799.40" y="920.32" width="117.60" height="35.80" fill="#F7E1EC"/>
<line x1="795.60" y1="938.22" x2="799.40" y2="938.22" stroke="#222" stroke-width="1.3"/>
<text class="lb" transform="translate(792.80,942.92) scale(0.818,1)" font-size="18.2" text-anchor="end">Signal transduction</text>
<rect x="799.40" y="960.18" width="156.80" height="35.80" fill="#BDB5DA"/>
<line x1="795.60" y1="978.08" x2="799.40" y2="978.08" stroke="#222" stroke-width="1.3"/>
<text class="lb" transform="translate(793.40,982.78) scale(0.818,1)" font-size="18.2" text-anchor="end">Transport and catabolism</text>
<rect x="799.40" y="1000.04" width="107.80" height="35.80" fill="#BDB5DA"/>
<line x1="795.60" y1="1017.94" x2="799.40" y2="1017.94" stroke="#222" stroke-width="1.3"/>
<text class="lb" transform="translate(794.00,1022.64) scale(0.818,1)" font-size="18.2" text-anchor="end">Cell growth and death</text>
<rect x="799.40" y="1039.90" width="58.80" height="35.80" fill="#BDB5DA"/>
<line x1="795.60" y1="1057.80" x2="799.40" y2="1057.80" stroke="#222" stroke-width="1.3"/>
<text class="lb" transform="translate(794.90,1062.50) scale(0.818,1)" font-size="18.2" text-anchor="end">Cellular community − eukaryotes</text>
<rect x="799.4" y="635.5" width="334.2" height="445.5" fill="none" stroke="#000" stroke-width="1.45"/>
<line x1="799.40" y1="1081.00" x2="799.40" y2="1084.90" stroke="#222" stroke-width="1.3"/>
<text class="lb" transform="translate(800.00,1102.30) scale(0.815,1)" font-size="18" text-anchor="middle">0</text>
<line x1="897.40" y1="1081.00" x2="897.40" y2="1084.90" stroke="#222" stroke-width="1.3"/>
<text class="lb" transform="translate(900.40,1102.30) scale(0.815,1)" font-size="18" text-anchor="middle">10</text>
<line x1="995.40" y1="1081.00" x2="995.40" y2="1084.90" stroke="#222" stroke-width="1.3"/>
<text class="lb" transform="translate(998.40,1102.30) scale(0.815,1)" font-size="18" text-anchor="middle">20</text>
<line x1="1093.40" y1="1081.00" x2="1093.40" y2="1084.90" stroke="#222" stroke-width="1.3"/>
<text class="lb" transform="translate(1096.40,1102.30) scale(0.815,1)" font-size="18" text-anchor="middle">30</text>
<text class="lb" transform="translate(968.00,1123.20) scale(0.82,1)" font-size="18.2" text-anchor="middle">Number of genes</text>
<text class="lb" transform="translate(589.60,839.00) rotate(-90) scale(1.11,1)" font-size="19.5" text-anchor="middle">KEGG Pathway</text>
<rect x="918.80" y="684.20" width="18.50" height="22.30" fill="#2F7FC1"/>
<text class="lb" transform="translate(944.00,700.20) scale(0.826,1)" font-size="15.3">Organismal Systems</text>
<rect x="918.80" y="708.26" width="18.50" height="22.30" fill="#96CCCB"/>
<text class="lb" transform="translate(944.00,724.26) scale(0.826,1)" font-size="15.3">Metabolism</text>
<rect x="918.80" y="732.32" width="18.50" height="22.30" fill="#9BC8DA"/>
<text class="lb" transform="translate(944.00,748.32) scale(0.826,1)" font-size="15.3">Genetic Information Processing</text>
<rect x="918.80" y="756.38" width="18.50" height="22.30" fill="#F7E1EC"/>
<text class="lb" transform="translate(944.00,772.38) scale(0.826,1)" font-size="15.3">Environmental Information</text>
<rect x="918.80" y="780.44" width="18.50" height="22.30" fill="#BDB5DA"/>
<text class="lb" transform="translate(944.00,796.44) scale(0.826,1)" font-size="15.3">Cellular Processes</text>
</g>
<g id="panel-f">
<text class="l" x="1193.60" y="620.60" font-size="54">f</text>
<rect x="1259.80" y="1014.10" width="785.20" height="22.40" fill="#F7F7F7"/>
<rect x="1259.80" y="1058.90" width="785.20" height="22.40" fill="#F7F7F7"/>
<rect x="1259.80" y="1103.50" width="785.20" height="22.40" fill="#F7F7F7"/>
<rect x="1267.95" y="634.31" width="7.70" height="356.09" fill="#000"/>
<text class="l" x="1271.80" y="628.31" font-size="8.2" text-anchor="middle">822</text>
<circle cx="1271.80" cy="1047.7" r="5.6" fill="#E6E6E6"/>
<rect x="1279.72" y="642.54" width="9.10" height="347.86" fill="#377EB8"/>
<text class="l" x="1284.27" y="636.54" font-size="8.2" text-anchor="middle">803</text>
<circle cx="1284.27" cy="1002.9" r="5.6" fill="#E6E6E6"/>
<circle cx="1284.27" cy="1025.3" r="5.6" fill="#E6E6E6"/>
<circle cx="1284.27" cy="1070.1" r="5.6" fill="#E6E6E6"/>
<circle cx="1284.27" cy="1092.5" r="5.6" fill="#E6E6E6"/>
<circle cx="1284.27" cy="1114.7" r="5.6" fill="#E6E6E6"/>
<rect x="1292.89" y="663.77" width="7.70" height="326.63" fill="#000"/>
<text class="l" x="1296.74" y="657.77" font-size="8.2" text-anchor="middle">754</text>
<circle cx="1296.74" cy="1002.9" r="5.6" fill="#E6E6E6"/>
<rect x="1305.36" y="888.60" width="7.70" height="101.80" fill="#000"/>
<text class="l" x="1309.21" y="882.60" font-size="8.2" text-anchor="middle">235</text>
<circle cx="1309.21" cy="1025.3" r="5.6" fill="#E6E6E6"/>
<rect x="1317.83" y="915.46" width="7.70" height="74.94" fill="#000"/>
<text class="l" x="1321.68" y="909.46" font-size="8.2" text-anchor="middle">173</text>
<circle cx="1321.68" cy="1025.3" r="5.6" fill="#E6E6E6"/>
<circle cx="1321.68" cy="1047.7" r="5.6" fill="#E6E6E6"/>
<rect x="1330.30" y="933.65" width="7.70" height="56.75" fill="#000"/>
<text class="l" x="1334.15" y="927.65" font-size="8.2" text-anchor="middle">131</text>
<circle cx="1334.15" cy="1092.5" r="5.6" fill="#E6E6E6"/>
<rect x="1342.77" y="937.55" width="7.70" height="52.85" fill="#000"/>
<text class="l" x="1346.62" y="931.55" font-size="8.2" text-anchor="middle">122</text>
<circle cx="1346.62" cy="1114.7" r="5.6" fill="#E6E6E6"/>
<rect x="1354.54" y="939.28" width="9.10" height="51.12" fill="#88F5C5"/>
<text class="l" x="1359.09" y="933.28" font-size="8.2" text-anchor="middle">118</text>
<circle cx="1359.09" cy="1002.9" r="5.6" fill="#E6E6E6"/>
<circle cx="1359.09" cy="1025.3" r="5.6" fill="#E6E6E6"/>
<circle cx="1359.09" cy="1047.7" r="5.6" fill="#E6E6E6"/>
<circle cx="1359.09" cy="1070.1" r="5.6" fill="#E6E6E6"/>
<circle cx="1359.09" cy="1114.7" r="5.6" fill="#E6E6E6"/>
<rect x="1367.71" y="939.28" width="7.70" height="51.12" fill="#000"/>
<text class="l" x="1371.56" y="933.28" font-size="8.2" text-anchor="middle">118</text>
<circle cx="1371.56" cy="1025.3" r="5.6" fill="#E6E6E6"/>
<circle cx="1371.56" cy="1047.7" r="5.6" fill="#E6E6E6"/>
<circle cx="1371.56" cy="1070.1" r="5.6" fill="#E6E6E6"/>
<circle cx="1371.56" cy="1092.5" r="5.6" fill="#E6E6E6"/>
<circle cx="1371.56" cy="1114.7" r="5.6" fill="#E6E6E6"/>
<rect x="1380.18" y="939.28" width="7.70" height="51.12" fill="#000"/>
<text class="l" x="1384.03" y="933.28" font-size="8.2" text-anchor="middle">118</text>
<circle cx="1384.03" cy="1070.1" r="5.6" fill="#E6E6E6"/>
<rect x="1392.65" y="941.45" width="7.70" height="48.95" fill="#000"/>
<text class="l" x="1396.50" y="935.45" font-size="8.2" text-anchor="middle">113</text>
<circle cx="1396.50" cy="1025.3" r="5.6" fill="#E6E6E6"/>
<circle cx="1396.50" cy="1070.1" r="5.6" fill="#E6E6E6"/>
<circle cx="1396.50" cy="1092.5" r="5.6" fill="#E6E6E6"/>
<circle cx="1396.50" cy="1114.7" r="5.6" fill="#E6E6E6"/>
<rect x="1404.42" y="944.05" width="9.10" height="46.35" fill="#F99D9A"/>
<text class="l" x="1408.97" y="938.05" font-size="8.2" text-anchor="middle">107</text>
<circle cx="1408.97" cy="1002.9" r="5.6" fill="#E6E6E6"/>
<circle cx="1408.97" cy="1025.3" r="5.6" fill="#E6E6E6"/>
<circle cx="1408.97" cy="1047.7" r="5.6" fill="#E6E6E6"/>
<circle cx="1408.97" cy="1070.1" r="5.6" fill="#E6E6E6"/>
<circle cx="1408.97" cy="1092.5" r="5.6" fill="#E6E6E6"/>
<rect x="1416.89" y="946.21" width="9.10" height="44.19" fill="#B47FF4"/>
<text class="l" x="1421.44" y="940.21" font-size="8.2" text-anchor="middle">102</text>
<circle cx="1421.44" cy="1002.9" r="5.6" fill="#E6E6E6"/>
<circle cx="1421.44" cy="1025.3" r="5.6" fill="#E6E6E6"/>
<circle cx="1421.44" cy="1047.7" r="5.6" fill="#E6E6E6"/>
<circle cx="1421.44" cy="1092.5" r="5.6" fill="#E6E6E6"/>
<circle cx="1421.44" cy="1114.7" r="5.6" fill="#E6E6E6"/>
<rect x="1430.06" y="946.65" width="7.70" height="43.75" fill="#000"/>
<text class="l" x="1433.91" y="940.65" font-size="8.2" text-anchor="middle">101</text>
<circle cx="1433.91" cy="1002.9" r="5.6" fill="#E6E6E6"/>
<circle cx="1433.91" cy="1047.7" r="5.6" fill="#E6E6E6"/>
<rect x="1442.53" y="947.08" width="7.70" height="43.32" fill="#000"/>
<text class="l" x="1446.38" y="941.08" font-size="8.2" text-anchor="middle">100</text>
<circle cx="1446.38" cy="1002.9" r="5.6" fill="#E6E6E6"/>
<circle cx="1446.38" cy="1025.3" r="5.6" fill="#E6E6E6"/>
<circle cx="1446.38" cy="1047.7" r="5.6" fill="#E6E6E6"/>
<rect x="1455.00" y="951.41" width="7.70" height="38.99" fill="#000"/>
<text class="l" x="1458.85" y="945.41" font-size="8.2" text-anchor="middle">90</text>
<circle cx="1458.85" cy="1002.9" r="5.6" fill="#E6E6E6"/>
<circle cx="1458.85" cy="1025.3" r="5.6" fill="#E6E6E6"/>
<circle cx="1458.85" cy="1047.7" r="5.6" fill="#E6E6E6"/>
<circle cx="1458.85" cy="1114.7" r="5.6" fill="#E6E6E6"/>
<rect x="1467.47" y="955.74" width="7.70" height="34.66" fill="#000"/>
<text class="l" x="1471.32" y="949.74" font-size="8.2" text-anchor="middle">80</text>
<circle cx="1471.32" cy="1002.9" r="5.6" fill="#E6E6E6"/>
<circle cx="1471.32" cy="1025.3" r="5.6" fill="#E6E6E6"/>
<circle cx="1471.32" cy="1047.7" r="5.6" fill="#E6E6E6"/>
<circle cx="1471.32" cy="1092.5" r="5.6" fill="#E6E6E6"/>
<rect x="1479.94" y="957.48" width="7.70" height="32.92" fill="#000"/>
<text class="l" x="1483.79" y="951.48" font-size="8.2" text-anchor="middle">76</text>
<circle cx="1483.79" cy="1002.9" r="5.6" fill="#E6E6E6"/>
<circle cx="1483.79" cy="1025.3" r="5.6" fill="#E6E6E6"/>
<rect x="1492.41" y="957.91" width="7.70" height="32.49" fill="#000"/>
<text class="l" x="1496.26" y="951.91" font-size="8.2" text-anchor="middle">75</text>
<circle cx="1496.26" cy="1002.9" r="5.6" fill="#E6E6E6"/>
<circle cx="1496.26" cy="1025.3" r="5.6" fill="#E6E6E6"/>
<circle cx="1496.26" cy="1047.7" r="5.6" fill="#E6E6E6"/>
<circle cx="1496.26" cy="1070.1" r="5.6" fill="#E6E6E6"/>
<rect x="1504.88" y="959.21" width="7.70" height="31.19" fill="#000"/>
<text class="l" x="1508.73" y="953.21" font-size="8.2" text-anchor="middle">72</text>
<circle cx="1508.73" cy="1025.3" r="5.6" fill="#E6E6E6"/>
<circle cx="1508.73" cy="1047.7" r="5.6" fill="#E6E6E6"/>
<circle cx="1508.73" cy="1070.1" r="5.6" fill="#E6E6E6"/>
<circle cx="1508.73" cy="1092.5" r="5.6" fill="#E6E6E6"/>
<rect x="1517.35" y="962.68" width="7.70" height="27.72" fill="#000"/>
<text class="l" x="1521.20" y="956.68" font-size="8.2" text-anchor="middle">64</text>
<circle cx="1521.20" cy="1025.3" r="5.6" fill="#E6E6E6"/>
<circle cx="1521.20" cy="1047.7" r="5.6" fill="#E6E6E6"/>
<circle cx="1521.20" cy="1092.5" r="5.6" fill="#E6E6E6"/>
<circle cx="1521.20" cy="1114.7" r="5.6" fill="#E6E6E6"/>
<rect x="1529.82" y="967.44" width="7.70" height="22.96" fill="#000"/>
<text class="l" x="1533.67" y="961.44" font-size="8.2" text-anchor="middle">53</text>
<circle cx="1533.67" cy="1025.3" r="5.6" fill="#E6E6E6"/>
<circle cx="1533.67" cy="1047.7" r="5.6" fill="#E6E6E6"/>
<circle cx="1533.67" cy="1070.1" r="5.6" fill="#E6E6E6"/>
<circle cx="1533.67" cy="1114.7" r="5.6" fill="#E6E6E6"/>
<rect x="1542.29" y="967.87" width="7.70" height="22.53" fill="#000"/>
<text class="l" x="1546.14" y="961.87" font-size="8.2" text-anchor="middle">52</text>
<circle cx="1546.14" cy="1025.3" r="5.6" fill="#E6E6E6"/>
<circle cx="1546.14" cy="1047.7" r="5.6" fill="#E6E6E6"/>
<circle cx="1546.14" cy="1070.1" r="5.6" fill="#E6E6E6"/>
<rect x="1554.76" y="967.87" width="7.70" height="22.53" fill="#000"/>
<text class="l" x="1558.61" y="961.87" font-size="8.2" text-anchor="middle">52</text>
<circle cx="1558.61" cy="1002.9" r="5.6" fill="#E6E6E6"/>
<circle cx="1558.61" cy="1070.1" r="5.6" fill="#E6E6E6"/>
<rect x="1567.23" y="968.31" width="7.70" height="22.09" fill="#000"/>
<text class="l" x="1571.08" y="962.31" font-size="8.2" text-anchor="middle">51</text>
<circle cx="1571.08" cy="1002.9" r="5.6" fill="#E6E6E6"/>
<circle cx="1571.08" cy="1025.3" r="5.6" fill="#E6E6E6"/>
<circle cx="1571.08" cy="1092.5" r="5.6" fill="#E6E6E6"/>
<circle cx="1571.08" cy="1114.7" r="5.6" fill="#E6E6E6"/>
<rect x="1579.70" y="968.31" width="7.70" height="22.09" fill="#000"/>
<text class="l" x="1583.55" y="962.31" font-size="8.2" text-anchor="middle">51</text>
<circle cx="1583.55" cy="1025.3" r="5.6" fill="#E6E6E6"/>
<circle cx="1583.55" cy="1047.7" r="5.6" fill="#E6E6E6"/>
<circle cx="1583.55" cy="1092.5" r="5.6" fill="#E6E6E6"/>
<rect x="1591.47" y="968.74" width="9.10" height="21.66" fill="#FF7F00"/>
<text class="l" x="1596.02" y="962.74" font-size="8.2" text-anchor="middle">50</text>
<circle cx="1596.02" cy="1002.9" r="5.6" fill="#E6E6E6"/>
<circle cx="1596.02" cy="1047.7" r="5.6" fill="#E6E6E6"/>
<circle cx="1596.02" cy="1070.1" r="5.6" fill="#E6E6E6"/>
<circle cx="1596.02" cy="1092.5" r="5.6" fill="#E6E6E6"/>
<circle cx="1596.02" cy="1114.7" r="5.6" fill="#E6E6E6"/>
<rect x="1604.64" y="968.74" width="7.70" height="21.66" fill="#000"/>
<text class="l" x="1608.49" y="962.74" font-size="8.2" text-anchor="middle">50</text>
<circle cx="1608.49" cy="1025.3" r="5.6" fill="#E6E6E6"/>
<circle cx="1608.49" cy="1092.5" r="5.6" fill="#E6E6E6"/>
<rect x="1617.11" y="969.17" width="7.70" height="21.23" fill="#000"/>
<text class="l" x="1620.96" y="963.17" font-size="8.2" text-anchor="middle">49</text>
<circle cx="1620.96" cy="1002.9" r="5.6" fill="#E6E6E6"/>
<circle cx="1620.96" cy="1025.3" r="5.6" fill="#E6E6E6"/>
<circle cx="1620.96" cy="1070.1" r="5.6" fill="#E6E6E6"/>
<circle cx="1620.96" cy="1092.5" r="5.6" fill="#E6E6E6"/>
<rect x="1629.58" y="970.47" width="7.70" height="19.93" fill="#000"/>
<text class="l" x="1633.43" y="964.47" font-size="8.2" text-anchor="middle">46</text>
<circle cx="1633.43" cy="1025.3" r="5.6" fill="#E6E6E6"/>
<circle cx="1633.43" cy="1114.7" r="5.6" fill="#E6E6E6"/>
<rect x="1642.05" y="971.77" width="7.70" height="18.63" fill="#000"/>
<text class="l" x="1645.90" y="965.77" font-size="8.2" text-anchor="middle">43</text>
<circle cx="1645.90" cy="1002.9" r="5.6" fill="#E6E6E6"/>
<circle cx="1645.90" cy="1070.1" r="5.6" fill="#E6E6E6"/>
<circle cx="1645.90" cy="1092.5" r="5.6" fill="#E6E6E6"/>
<circle cx="1645.90" cy="1114.7" r="5.6" fill="#E6E6E6"/>
<rect x="1654.52" y="971.77" width="7.70" height="18.63" fill="#000"/>
<text class="l" x="1658.37" y="965.77" font-size="8.2" text-anchor="middle">43</text>
<circle cx="1658.37" cy="1002.9" r="5.6" fill="#E6E6E6"/>
<circle cx="1658.37" cy="1025.3" r="5.6" fill="#E6E6E6"/>
<circle cx="1658.37" cy="1070.1" r="5.6" fill="#E6E6E6"/>
<circle cx="1658.37" cy="1114.7" r="5.6" fill="#E6E6E6"/>
<rect x="1666.99" y="971.77" width="7.70" height="18.63" fill="#000"/>
<text class="l" x="1670.84" y="965.77" font-size="8.2" text-anchor="middle">43</text>
<circle cx="1670.84" cy="1025.3" r="5.6" fill="#E6E6E6"/>
<circle cx="1670.84" cy="1047.7" r="5.6" fill="#E6E6E6"/>
<circle cx="1670.84" cy="1114.7" r="5.6" fill="#E6E6E6"/>
<rect x="1679.46" y="971.77" width="7.70" height="18.63" fill="#000"/>
<text class="l" x="1683.31" y="965.77" font-size="8.2" text-anchor="middle">43</text>
<circle cx="1683.31" cy="1025.3" r="5.6" fill="#E6E6E6"/>
<circle cx="1683.31" cy="1070.1" r="5.6" fill="#E6E6E6"/>
<circle cx="1683.31" cy="1114.7" r="5.6" fill="#E6E6E6"/>
<rect x="1691.93" y="971.77" width="7.70" height="18.63" fill="#000"/>
<text class="l" x="1695.78" y="965.77" font-size="8.2" text-anchor="middle">43</text>
<circle cx="1695.78" cy="1047.7" r="5.6" fill="#E6E6E6"/>
<circle cx="1695.78" cy="1070.1" r="5.6" fill="#E6E6E6"/>
<rect x="1704.40" y="972.21" width="7.70" height="18.19" fill="#000"/>
<text class="l" x="1708.25" y="966.21" font-size="8.2" text-anchor="middle">42</text>
<circle cx="1708.25" cy="1025.3" r="5.6" fill="#E6E6E6"/>
<circle cx="1708.25" cy="1070.1" r="5.6" fill="#E6E6E6"/>
<rect x="1716.87" y="973.51" width="7.70" height="16.89" fill="#000"/>
<text class="l" x="1720.72" y="967.51" font-size="8.2" text-anchor="middle">39</text>
<circle cx="1720.72" cy="1002.9" r="5.6" fill="#E6E6E6"/>
<circle cx="1720.72" cy="1092.5" r="5.6" fill="#E6E6E6"/>
<rect x="1729.34" y="974.37" width="7.70" height="16.03" fill="#000"/>
<text class="l" x="1733.19" y="968.37" font-size="8.2" text-anchor="middle">37</text>
<circle cx="1733.19" cy="1047.7" r="5.6" fill="#E6E6E6"/>
<circle cx="1733.19" cy="1092.5" r="5.6" fill="#E6E6E6"/>
<rect x="1741.81" y="974.80" width="7.70" height="15.60" fill="#000"/>
<text class="l" x="1745.66" y="968.80" font-size="8.2" text-anchor="middle">36</text>
<circle cx="1745.66" cy="1002.9" r="5.6" fill="#E6E6E6"/>
<circle cx="1745.66" cy="1047.7" r="5.6" fill="#E6E6E6"/>
<circle cx="1745.66" cy="1092.5" r="5.6" fill="#E6E6E6"/>
<circle cx="1745.66" cy="1114.7" r="5.6" fill="#E6E6E6"/>
<rect x="1754.28" y="974.80" width="7.70" height="15.60" fill="#000"/>
<text class="l" x="1758.13" y="968.80" font-size="8.2" text-anchor="middle">36</text>
<circle cx="1758.13" cy="1002.9" r="5.6" fill="#E6E6E6"/>
<circle cx="1758.13" cy="1114.7" r="5.6" fill="#E6E6E6"/>
<rect x="1766.75" y="975.24" width="7.70" height="15.16" fill="#000"/>
<text class="l" x="1770.60" y="969.24" font-size="8.2" text-anchor="middle">35</text>
<circle cx="1770.60" cy="1047.7" r="5.6" fill="#E6E6E6"/>
<circle cx="1770.60" cy="1070.1" r="5.6" fill="#E6E6E6"/>
<circle cx="1770.60" cy="1092.5" r="5.6" fill="#E6E6E6"/>
<circle cx="1770.60" cy="1114.7" r="5.6" fill="#E6E6E6"/>
<rect x="1779.22" y="976.10" width="7.70" height="14.30" fill="#000"/>
<text class="l" x="1783.07" y="970.10" font-size="8.2" text-anchor="middle">33</text>
<circle cx="1783.07" cy="1047.7" r="5.6" fill="#E6E6E6"/>
<circle cx="1783.07" cy="1114.7" r="5.6" fill="#E6E6E6"/>
<rect x="1791.69" y="976.54" width="7.70" height="13.86" fill="#000"/>
<text class="l" x="1795.54" y="970.54" font-size="8.2" text-anchor="middle">32</text>
<circle cx="1795.54" cy="1002.9" r="5.6" fill="#E6E6E6"/>
<circle cx="1795.54" cy="1047.7" r="5.6" fill="#E6E6E6"/>
<circle cx="1795.54" cy="1070.1" r="5.6" fill="#E6E6E6"/>
<circle cx="1795.54" cy="1092.5" r="5.6" fill="#E6E6E6"/>
<rect x="1804.16" y="976.97" width="7.70" height="13.43" fill="#000"/>
<text class="l" x="1808.01" y="970.97" font-size="8.2" text-anchor="middle">31</text>
<circle cx="1808.01" cy="1025.3" r="5.6" fill="#E6E6E6"/>
<circle cx="1808.01" cy="1070.1" r="5.6" fill="#E6E6E6"/>
<circle cx="1808.01" cy="1092.5" r="5.6" fill="#E6E6E6"/>
<rect x="1816.63" y="977.84" width="7.70" height="12.56" fill="#000"/>
<text class="l" x="1820.48" y="971.84" font-size="8.2" text-anchor="middle">29</text>
<circle cx="1820.48" cy="1002.9" r="5.6" fill="#E6E6E6"/>
<circle cx="1820.48" cy="1047.7" r="5.6" fill="#E6E6E6"/>
<circle cx="1820.48" cy="1070.1" r="5.6" fill="#E6E6E6"/>
<circle cx="1820.48" cy="1114.7" r="5.6" fill="#E6E6E6"/>
<rect x="1829.10" y="978.70" width="7.70" height="11.70" fill="#000"/>
<text class="l" x="1832.95" y="972.70" font-size="8.2" text-anchor="middle">27</text>
<circle cx="1832.95" cy="1047.7" r="5.6" fill="#E6E6E6"/>
<circle cx="1832.95" cy="1070.1" r="5.6" fill="#E6E6E6"/>
<circle cx="1832.95" cy="1114.7" r="5.6" fill="#E6E6E6"/>
<rect x="1841.57" y="978.70" width="7.70" height="11.70" fill="#000"/>
<text class="l" x="1845.42" y="972.70" font-size="8.2" text-anchor="middle">27</text>
<circle cx="1845.42" cy="1070.1" r="5.6" fill="#E6E6E6"/>
<circle cx="1845.42" cy="1092.5" r="5.6" fill="#E6E6E6"/>
<rect x="1854.04" y="978.70" width="7.70" height="11.70" fill="#000"/>
<text class="l" x="1857.89" y="972.70" font-size="8.2" text-anchor="middle">27</text>
<circle cx="1857.89" cy="1070.1" r="5.6" fill="#E6E6E6"/>
<circle cx="1857.89" cy="1114.7" r="5.6" fill="#E6E6E6"/>
<rect x="1866.51" y="979.14" width="7.70" height="11.26" fill="#000"/>
<text class="l" x="1870.36" y="973.14" font-size="8.2" text-anchor="middle">26</text>
<circle cx="1870.36" cy="1002.9" r="5.6" fill="#E6E6E6"/>
<circle cx="1870.36" cy="1047.7" r="5.6" fill="#E6E6E6"/>
<circle cx="1870.36" cy="1092.5" r="5.6" fill="#E6E6E6"/>
<rect x="1878.98" y="979.14" width="7.70" height="11.26" fill="#000"/>
<text class="l" x="1882.83" y="973.14" font-size="8.2" text-anchor="middle">26</text>
<circle cx="1882.83" cy="1002.9" r="5.6" fill="#E6E6E6"/>
<circle cx="1882.83" cy="1070.1" r="5.6" fill="#E6E6E6"/>
<circle cx="1882.83" cy="1114.7" r="5.6" fill="#E6E6E6"/>
<rect x="1891.45" y="979.57" width="7.70" height="10.83" fill="#000"/>
<text class="l" x="1895.30" y="973.57" font-size="8.2" text-anchor="middle">25</text>
<circle cx="1895.30" cy="1002.9" r="5.6" fill="#E6E6E6"/>
<circle cx="1895.30" cy="1025.3" r="5.6" fill="#E6E6E6"/>
<circle cx="1895.30" cy="1092.5" r="5.6" fill="#E6E6E6"/>
<rect x="1903.92" y="979.57" width="7.70" height="10.83" fill="#000"/>
<text class="l" x="1907.77" y="973.57" font-size="8.2" text-anchor="middle">25</text>
<circle cx="1907.77" cy="1092.5" r="5.6" fill="#E6E6E6"/>
<circle cx="1907.77" cy="1114.7" r="5.6" fill="#E6E6E6"/>
<rect x="1916.39" y="980.00" width="7.70" height="10.40" fill="#000"/>
<text class="l" x="1920.24" y="974.00" font-size="8.2" text-anchor="middle">24</text>
<circle cx="1920.24" cy="1070.1" r="5.6" fill="#E6E6E6"/>
<circle cx="1920.24" cy="1092.5" r="5.6" fill="#E6E6E6"/>
<circle cx="1920.24" cy="1114.7" r="5.6" fill="#E6E6E6"/>
<rect x="1928.86" y="980.44" width="7.70" height="9.96" fill="#000"/>
<text class="l" x="1932.71" y="974.44" font-size="8.2" text-anchor="middle">23</text>
<circle cx="1932.71" cy="1025.3" r="5.6" fill="#E6E6E6"/>
<circle cx="1932.71" cy="1092.5" r="5.6" fill="#E6E6E6"/>
<circle cx="1932.71" cy="1114.7" r="5.6" fill="#E6E6E6"/>
<rect x="1941.33" y="980.44" width="7.70" height="9.96" fill="#000"/>
<text class="l" x="1945.18" y="974.44" font-size="8.2" text-anchor="middle">23</text>
<circle cx="1945.18" cy="1002.9" r="5.6" fill="#E6E6E6"/>
<circle cx="1945.18" cy="1025.3" r="5.6" fill="#E6E6E6"/>
<circle cx="1945.18" cy="1070.1" r="5.6" fill="#E6E6E6"/>
<rect x="1953.80" y="981.30" width="7.70" height="9.10" fill="#000"/>
<text class="l" x="1957.65" y="975.30" font-size="8.2" text-anchor="middle">21</text>
<circle cx="1957.65" cy="1002.9" r="5.6" fill="#E6E6E6"/>
<circle cx="1957.65" cy="1070.1" r="5.6" fill="#E6E6E6"/>
<circle cx="1957.65" cy="1092.5" r="5.6" fill="#E6E6E6"/>
<rect x="1966.27" y="981.30" width="7.70" height="9.10" fill="#000"/>
<text class="l" x="1970.12" y="975.30" font-size="8.2" text-anchor="middle">21</text>
<circle cx="1970.12" cy="1002.9" r="5.6" fill="#E6E6E6"/>
<circle cx="1970.12" cy="1047.7" r="5.6" fill="#E6E6E6"/>
<circle cx="1970.12" cy="1070.1" r="5.6" fill="#E6E6E6"/>
<rect x="1978.74" y="981.74" width="7.70" height="8.66" fill="#000"/>
<text class="l" x="1982.59" y="975.74" font-size="8.2" text-anchor="middle">20</text>
<circle cx="1982.59" cy="1002.9" r="5.6" fill="#E6E6E6"/>
<circle cx="1982.59" cy="1047.7" r="5.6" fill="#E6E6E6"/>
<circle cx="1982.59" cy="1114.7" r="5.6" fill="#E6E6E6"/>
<rect x="1991.21" y="981.74" width="7.70" height="8.66" fill="#000"/>
<text class="l" x="1995.06" y="975.74" font-size="8.2" text-anchor="middle">20</text>
<circle cx="1995.06" cy="1002.9" r="5.6" fill="#E6E6E6"/>
<circle cx="1995.06" cy="1025.3" r="5.6" fill="#E6E6E6"/>
<circle cx="1995.06" cy="1114.7" r="5.6" fill="#E6E6E6"/>
<rect x="2003.68" y="983.47" width="7.70" height="6.93" fill="#000"/>
<text class="l" x="2007.53" y="977.47" font-size="8.2" text-anchor="middle">16</text>
<circle cx="2007.53" cy="1047.7" r="5.6" fill="#E6E6E6"/>
<circle cx="2007.53" cy="1070.1" r="5.6" fill="#E6E6E6"/>
<circle cx="2007.53" cy="1092.5" r="5.6" fill="#E6E6E6"/>
<rect x="2016.15" y="983.90" width="7.70" height="6.50" fill="#000"/>
<text class="l" x="2020.00" y="977.90" font-size="8.2" text-anchor="middle">15</text>
<circle cx="2020.00" cy="1002.9" r="5.6" fill="#E6E6E6"/>
<circle cx="2020.00" cy="1092.5" r="5.6" fill="#E6E6E6"/>
<circle cx="2020.00" cy="1114.7" r="5.6" fill="#E6E6E6"/>
<rect x="2028.62" y="984.77" width="7.70" height="5.63" fill="#000"/>
<text class="l" x="2032.47" y="978.77" font-size="8.2" text-anchor="middle">13</text>
<circle cx="2032.47" cy="1047.7" r="5.6" fill="#E6E6E6"/>
<circle cx="2032.47" cy="1092.5" r="5.6" fill="#E6E6E6"/>
<circle cx="2032.47" cy="1114.7" r="5.6" fill="#E6E6E6"/>
<line x1="1271.80" y1="1002.90" x2="1271.80" y2="1114.70" stroke="#000" stroke-width="3.2"/>
<circle cx="1271.80" cy="1002.9" r="5.95" fill="#000"/>
<circle cx="1271.80" cy="1025.3" r="5.95" fill="#000"/>
<circle cx="1271.80" cy="1070.1" r="5.95" fill="#000"/>
<circle cx="1271.80" cy="1092.5" r="5.95" fill="#000"/>
<circle cx="1271.80" cy="1114.7" r="5.95" fill="#000"/>
<circle cx="1284.27" cy="1047.7" r="5.95" fill="#377EB8"/>
<line x1="1296.74" y1="1025.30" x2="1296.74" y2="1114.70" stroke="#000" stroke-width="3.2"/>
<circle cx="1296.74" cy="1025.3" r="5.95" fill="#000"/>
<circle cx="1296.74" cy="1047.7" r="5.95" fill="#000"/>
<circle cx="1296.74" cy="1070.1" r="5.95" fill="#000"/>
<circle cx="1296.74" cy="1092.5" r="5.95" fill="#000"/>
<circle cx="1296.74" cy="1114.7" r="5.95" fill="#000"/>
<line x1="1309.21" y1="1002.90" x2="1309.21" y2="1114.70" stroke="#000" stroke-width="3.2"/>
<circle cx="1309.21" cy="1002.9" r="5.95" fill="#000"/>
<circle cx="1309.21" cy="1047.7" r="5.95" fill="#000"/>
<circle cx="1309.21" cy="1070.1" r="5.95" fill="#000"/>
<circle cx="1309.21" cy="1092.5" r="5.95" fill="#000"/>
<circle cx="1309.21" cy="1114.7" r="5.95" fill="#000"/>
<line x1="1321.68" y1="1002.90" x2="1321.68" y2="1114.70" stroke="#000" stroke-width="3.2"/>
<circle cx="1321.68" cy="1002.9" r="5.95" fill="#000"/>
<circle cx="1321.68" cy="1070.1" r="5.95" fill="#000"/>
<circle cx="1321.68" cy="1092.5" r="5.95" fill="#000"/>
<circle cx="1321.68" cy="1114.7" r="5.95" fill="#000"/>
<line x1="1334.15" y1="1002.90" x2="1334.15" y2="1114.70" stroke="#000" stroke-width="3.2"/>
<circle cx="1334.15" cy="1002.9" r="5.95" fill="#000"/>
<circle cx="1334.15" cy="1025.3" r="5.95" fill="#000"/>
<circle cx="1334.15" cy="1047.7" r="5.95" fill="#000"/>
<circle cx="1334.15" cy="1070.1" r="5.95" fill="#000"/>
<circle cx="1334.15" cy="1114.7" r="5.95" fill="#000"/>
<line x1="1346.62" y1="1002.90" x2="1346.62" y2="1092.50" stroke="#000" stroke-width="3.2"/>
<circle cx="1346.62" cy="1002.9" r="5.95" fill="#000"/>
<circle cx="1346.62" cy="1025.3" r="5.95" fill="#000"/>
<circle cx="1346.62" cy="1047.7" r="5.95" fill="#000"/>
<circle cx="1346.62" cy="1070.1" r="5.95" fill="#000"/>
<circle cx="1346.62" cy="1092.5" r="5.95" fill="#000"/>
<circle cx="1359.09" cy="1092.5" r="5.95" fill="#88F5C5"/>
<circle cx="1371.56" cy="1002.9" r="5.95" fill="#000"/>
<line x1="1384.03" y1="1002.90" x2="1384.03" y2="1114.70" stroke="#000" stroke-width="3.2"/>
<circle cx="1384.03" cy="1002.9" r="5.95" fill="#000"/>
<circle cx="1384.03" cy="1025.3" r="5.95" fill="#000"/>
<circle cx="1384.03" cy="1047.7" r="5.95" fill="#000"/>
<circle cx="1384.03" cy="1092.5" r="5.95" fill="#000"/>
<circle cx="1384.03" cy="1114.7" r="5.95" fill="#000"/>
<line x1="1396.50" y1="1002.90" x2="1396.50" y2="1047.70" stroke="#000" stroke-width="3.2"/>
<circle cx="1396.50" cy="1002.9" r="5.95" fill="#000"/>
<circle cx="1396.50" cy="1047.7" r="5.95" fill="#000"/>
<circle cx="1408.97" cy="1114.7" r="5.95" fill="#F99D9A"/>
<circle cx="1421.44" cy="1070.1" r="5.95" fill="#B47FF4"/>
<line x1="1433.91" y1="1025.30" x2="1433.91" y2="1114.70" stroke="#000" stroke-width="3.2"/>
<circle cx="1433.91" cy="1025.3" r="5.95" fill="#000"/>
<circle cx="1433.91" cy="1070.1" r="5.95" fill="#000"/>
<circle cx="1433.91" cy="1092.5" r="5.95" fill="#000"/>
<circle cx="1433.91" cy="1114.7" r="5.95" fill="#000"/>
<line x1="1446.38" y1="1070.10" x2="1446.38" y2="1114.70" stroke="#000" stroke-width="3.2"/>
<circle cx="1446.38" cy="1070.1" r="5.95" fill="#000"/>
<circle cx="1446.38" cy="1092.5" r="5.95" fill="#000"/>
<circle cx="1446.38" cy="1114.7" r="5.95" fill="#000"/>
<line x1="1458.85" y1="1070.10" x2="1458.85" y2="1092.50" stroke="#000" stroke-width="3.2"/>
<circle cx="1458.85" cy="1070.1" r="5.95" fill="#000"/>
<circle cx="1458.85" cy="1092.5" r="5.95" fill="#000"/>
<line x1="1471.32" y1="1070.10" x2="1471.32" y2="1114.70" stroke="#000" stroke-width="3.2"/>
<circle cx="1471.32" cy="1070.1" r="5.95" fill="#000"/>
<circle cx="1471.32" cy="1114.7" r="5.95" fill="#000"/>
<line x1="1483.79" y1="1047.70" x2="1483.79" y2="1114.70" stroke="#000" stroke-width="3.2"/>
<circle cx="1483.79" cy="1047.7" r="5.95" fill="#000"/>
<circle cx="1483.79" cy="1070.1" r="5.95" fill="#000"/>
<circle cx="1483.79" cy="1092.5" r="5.95" fill="#000"/>
<circle cx="1483.79" cy="1114.7" r="5.95" fill="#000"/>
<line x1="1496.26" y1="1092.50" x2="1496.26" y2="1114.70" stroke="#000" stroke-width="3.2"/>
<circle cx="1496.26" cy="1092.5" r="5.95" fill="#000"/>
<circle cx="1496.26" cy="1114.7" r="5.95" fill="#000"/>
<line x1="1508.73" y1="1002.90" x2="1508.73" y2="1114.70" stroke="#000" stroke-width="3.2"/>
<circle cx="1508.73" cy="1002.9" r="5.95" fill="#000"/>
<circle cx="1508.73" cy="1114.7" r="5.95" fill="#000"/>
<line x1="1521.20" y1="1002.90" x2="1521.20" y2="1070.10" stroke="#000" stroke-width="3.2"/>
<circle cx="1521.20" cy="1002.9" r="5.95" fill="#000"/>
<circle cx="1521.20" cy="1070.1" r="5.95" fill="#000"/>
<line x1="1533.67" y1="1002.90" x2="1533.67" y2="1092.50" stroke="#000" stroke-width="3.2"/>
<circle cx="1533.67" cy="1002.9" r="5.95" fill="#000"/>
<circle cx="1533.67" cy="1092.5" r="5.95" fill="#000"/>
<line x1="1546.14" y1="1002.90" x2="1546.14" y2="1114.70" stroke="#000" stroke-width="3.2"/>
<circle cx="1546.14" cy="1002.9" r="5.95" fill="#000"/>
<circle cx="1546.14" cy="1092.5" r="5.95" fill="#000"/>
<circle cx="1546.14" cy="1114.7" r="5.95" fill="#000"/>
<line x1="1558.61" y1="1025.30" x2="1558.61" y2="1114.70" stroke="#000" stroke-width="3.2"/>
<circle cx="1558.61" cy="1025.3" r="5.95" fill="#000"/>
<circle cx="1558.61" cy="1047.7" r="5.95" fill="#000"/>
<circle cx="1558.61" cy="1092.5" r="5.95" fill="#000"/>
<circle cx="1558.61" cy="1114.7" r="5.95" fill="#000"/>
<line x1="1571.08" y1="1047.70" x2="1571.08" y2="1070.10" stroke="#000" stroke-width="3.2"/>
<circle cx="1571.08" cy="1047.7" r="5.95" fill="#000"/>
<circle cx="1571.08" cy="1070.1" r="5.95" fill="#000"/>
<line x1="1583.55" y1="1002.90" x2="1583.55" y2="1114.70" stroke="#000" stroke-width="3.2"/>
<circle cx="1583.55" cy="1002.9" r="5.95" fill="#000"/>
<circle cx="1583.55" cy="1070.1" r="5.95" fill="#000"/>
<circle cx="1583.55" cy="1114.7" r="5.95" fill="#000"/>
<circle cx="1596.02" cy="1025.3" r="5.95" fill="#000"/>
<line x1="1608.49" y1="1002.90" x2="1608.49" y2="1114.70" stroke="#000" stroke-width="3.2"/>
<circle cx="1608.49" cy="1002.9" r="5.95" fill="#000"/>
<circle cx="1608.49" cy="1047.7" r="5.95" fill="#000"/>
<circle cx="1608.49" cy="1070.1" r="5.95" fill="#000"/>
<circle cx="1608.49" cy="1114.7" r="5.95" fill="#000"/>
<line x1="1620.96" y1="1047.70" x2="1620.96" y2="1114.70" stroke="#000" stroke-width="3.2"/>
<circle cx="1620.96" cy="1047.7" r="5.95" fill="#000"/>
<circle cx="1620.96" cy="1114.7" r="5.95" fill="#000"/>
<line x1="1633.43" y1="1002.90" x2="1633.43" y2="1092.50" stroke="#000" stroke-width="3.2"/>
<circle cx="1633.43" cy="1002.9" r="5.95" fill="#000"/>
<circle cx="1633.43" cy="1047.7" r="5.95" fill="#000"/>
<circle cx="1633.43" cy="1070.1" r="5.95" fill="#000"/>
<circle cx="1633.43" cy="1092.5" r="5.95" fill="#000"/>
<line x1="1645.90" y1="1025.30" x2="1645.90" y2="1047.70" stroke="#000" stroke-width="3.2"/>
<circle cx="1645.90" cy="1025.3" r="5.95" fill="#000"/>
<circle cx="1645.90" cy="1047.7" r="5.95" fill="#000"/>
<line x1="1658.37" y1="1047.70" x2="1658.37" y2="1092.50" stroke="#000" stroke-width="3.2"/>
<circle cx="1658.37" cy="1047.7" r="5.95" fill="#000"/>
<circle cx="1658.37" cy="1092.5" r="5.95" fill="#000"/>
<line x1="1670.84" y1="1002.90" x2="1670.84" y2="1092.50" stroke="#000" stroke-width="3.2"/>
<circle cx="1670.84" cy="1002.9" r="5.95" fill="#000"/>
<circle cx="1670.84" cy="1070.1" r="5.95" fill="#000"/>
<circle cx="1670.84" cy="1092.5" r="5.95" fill="#000"/>
<line x1="1683.31" y1="1002.90" x2="1683.31" y2="1092.50" stroke="#000" stroke-width="3.2"/>
<circle cx="1683.31" cy="1002.9" r="5.95" fill="#000"/>
<circle cx="1683.31" cy="1047.7" r="5.95" fill="#000"/>
<circle cx="1683.31" cy="1092.5" r="5.95" fill="#000"/>
<line x1="1695.78" y1="1002.90" x2="1695.78" y2="1114.70" stroke="#000" stroke-width="3.2"/>
<circle cx="1695.78" cy="1002.9" r="5.95" fill="#000"/>
<circle cx="1695.78" cy="1025.3" r="5.95" fill="#000"/>
<circle cx="1695.78" cy="1092.5" r="5.95" fill="#000"/>
<circle cx="1695.78" cy="1114.7" r="5.95" fill="#000"/>
<line x1="1708.25" y1="1002.90" x2="1708.25" y2="1114.70" stroke="#000" stroke-width="3.2"/>
<circle cx="1708.25" cy="1002.9" r="5.95" fill="#000"/>
<circle cx="1708.25" cy="1047.7" r="5.95" fill="#000"/>
<circle cx="1708.25" cy="1092.5" r="5.95" fill="#000"/>
<circle cx="1708.25" cy="1114.7" r="5.95" fill="#000"/>
<line x1="1720.72" y1="1025.30" x2="1720.72" y2="1114.70" stroke="#000" stroke-width="3.2"/>
<circle cx="1720.72" cy="1025.3" r="5.95" fill="#000"/>
<circle cx="1720.72" cy="1047.7" r="5.95" fill="#000"/>
<circle cx="1720.72" cy="1070.1" r="5.95" fill="#000"/>
<circle cx="1720.72" cy="1114.7" r="5.95" fill="#000"/>
<line x1="1733.19" y1="1002.90" x2="1733.19" y2="1114.70" stroke="#000" stroke-width="3.2"/>
<circle cx="1733.19" cy="1002.9" r="5.95" fill="#000"/>
<circle cx="1733.19" cy="1025.3" r="5.95" fill="#000"/>
<circle cx="1733.19" cy="1070.1" r="5.95" fill="#000"/>
<circle cx="1733.19" cy="1114.7" r="5.95" fill="#000"/>
<line x1="1745.66" y1="1025.30" x2="1745.66" y2="1070.10" stroke="#000" stroke-width="3.2"/>
<circle cx="1745.66" cy="1025.3" r="5.95" fill="#000"/>
<circle cx="1745.66" cy="1070.1" r="5.95" fill="#000"/>
<line x1="1758.13" y1="1025.30" x2="1758.13" y2="1092.50" stroke="#000" stroke-width="3.2"/>
<circle cx="1758.13" cy="1025.3" r="5.95" fill="#000"/>
<circle cx="1758.13" cy="1047.7" r="5.95" fill="#000"/>
<circle cx="1758.13" cy="1070.1" r="5.95" fill="#000"/>
<circle cx="1758.13" cy="1092.5" r="5.95" fill="#000"/>
<line x1="1770.60" y1="1002.90" x2="1770.60" y2="1025.30" stroke="#000" stroke-width="3.2"/>
<circle cx="1770.60" cy="1002.9" r="5.95" fill="#000"/>
<circle cx="1770.60" cy="1025.3" r="5.95" fill="#000"/>
<line x1="1783.07" y1="1002.90" x2="1783.07" y2="1092.50" stroke="#000" stroke-width="3.2"/>
<circle cx="1783.07" cy="1002.9" r="5.95" fill="#000"/>
<circle cx="1783.07" cy="1025.3" r="5.95" fill="#000"/>
<circle cx="1783.07" cy="1070.1" r="5.95" fill="#000"/>
<circle cx="1783.07" cy="1092.5" r="5.95" fill="#000"/>
<line x1="1795.54" y1="1025.30" x2="1795.54" y2="1114.70" stroke="#000" stroke-width="3.2"/>
<circle cx="1795.54" cy="1025.3" r="5.95" fill="#000"/>
<circle cx="1795.54" cy="1114.7" r="5.95" fill="#000"/>
<line x1="1808.01" y1="1002.90" x2="1808.01" y2="1114.70" stroke="#000" stroke-width="3.2"/>
<circle cx="1808.01" cy="1002.9" r="5.95" fill="#000"/>
<circle cx="1808.01" cy="1047.7" r="5.95" fill="#000"/>
<circle cx="1808.01" cy="1114.7" r="5.95" fill="#000"/>
<line x1="1820.48" y1="1025.30" x2="1820.48" y2="1092.50" stroke="#000" stroke-width="3.2"/>
<circle cx="1820.48" cy="1025.3" r="5.95" fill="#000"/>
<circle cx="1820.48" cy="1092.5" r="5.95" fill="#000"/>
<line x1="1832.95" y1="1002.90" x2="1832.95" y2="1092.50" stroke="#000" stroke-width="3.2"/>
<circle cx="1832.95" cy="1002.9" r="5.95" fill="#000"/>
<circle cx="1832.95" cy="1025.3" r="5.95" fill="#000"/>
<circle cx="1832.95" cy="1092.5" r="5.95" fill="#000"/>
<line x1="1845.42" y1="1002.90" x2="1845.42" y2="1114.70" stroke="#000" stroke-width="3.2"/>
<circle cx="1845.42" cy="1002.9" r="5.95" fill="#000"/>
<circle cx="1845.42" cy="1025.3" r="5.95" fill="#000"/>
<circle cx="1845.42" cy="1047.7" r="5.95" fill="#000"/>
<circle cx="1845.42" cy="1114.7" r="5.95" fill="#000"/>
<line x1="1857.89" y1="1002.90" x2="1857.89" y2="1092.50" stroke="#000" stroke-width="3.2"/>
<circle cx="1857.89" cy="1002.9" r="5.95" fill="#000"/>
<circle cx="1857.89" cy="1025.3" r="5.95" fill="#000"/>
<circle cx="1857.89" cy="1047.7" r="5.95" fill="#000"/>
<circle cx="1857.89" cy="1092.5" r="5.95" fill="#000"/>
<line x1="1870.36" y1="1025.30" x2="1870.36" y2="1114.70" stroke="#000" stroke-width="3.2"/>
<circle cx="1870.36" cy="1025.3" r="5.95" fill="#000"/>
<circle cx="1870.36" cy="1070.1" r="5.95" fill="#000"/>
<circle cx="1870.36" cy="1114.7" r="5.95" fill="#000"/>
<line x1="1882.83" y1="1025.30" x2="1882.83" y2="1092.50" stroke="#000" stroke-width="3.2"/>
<circle cx="1882.83" cy="1025.3" r="5.95" fill="#000"/>
<circle cx="1882.83" cy="1047.7" r="5.95" fill="#000"/>
<circle cx="1882.83" cy="1092.5" r="5.95" fill="#000"/>
<line x1="1895.30" y1="1047.70" x2="1895.30" y2="1114.70" stroke="#000" stroke-width="3.2"/>
<circle cx="1895.30" cy="1047.7" r="5.95" fill="#000"/>
<circle cx="1895.30" cy="1070.1" r="5.95" fill="#000"/>
<circle cx="1895.30" cy="1114.7" r="5.95" fill="#000"/>
<line x1="1907.77" y1="1002.90" x2="1907.77" y2="1070.10" stroke="#000" stroke-width="3.2"/>
<circle cx="1907.77" cy="1002.9" r="5.95" fill="#000"/>
<circle cx="1907.77" cy="1025.3" r="5.95" fill="#000"/>
<circle cx="1907.77" cy="1047.7" r="5.95" fill="#000"/>
<circle cx="1907.77" cy="1070.1" r="5.95" fill="#000"/>
<line x1="1920.24" y1="1002.90" x2="1920.24" y2="1047.70" stroke="#000" stroke-width="3.2"/>
<circle cx="1920.24" cy="1002.9" r="5.95" fill="#000"/>
<circle cx="1920.24" cy="1025.3" r="5.95" fill="#000"/>
<circle cx="1920.24" cy="1047.7" r="5.95" fill="#000"/>
<line x1="1932.71" y1="1002.90" x2="1932.71" y2="1070.10" stroke="#000" stroke-width="3.2"/>
<circle cx="1932.71" cy="1002.9" r="5.95" fill="#000"/>
<circle cx="1932.71" cy="1047.7" r="5.95" fill="#000"/>
<circle cx="1932.71" cy="1070.1" r="5.95" fill="#000"/>
<line x1="1945.18" y1="1047.70" x2="1945.18" y2="1114.70" stroke="#000" stroke-width="3.2"/>
<circle cx="1945.18" cy="1047.7" r="5.95" fill="#000"/>
<circle cx="1945.18" cy="1092.5" r="5.95" fill="#000"/>
<circle cx="1945.18" cy="1114.7" r="5.95" fill="#000"/>
<line x1="1957.65" y1="1025.30" x2="1957.65" y2="1114.70" stroke="#000" stroke-width="3.2"/>
<circle cx="1957.65" cy="1025.3" r="5.95" fill="#000"/>
<circle cx="1957.65" cy="1047.7" r="5.95" fill="#000"/>
<circle cx="1957.65" cy="1114.7" r="5.95" fill="#000"/>
<line x1="1970.12" y1="1025.30" x2="1970.12" y2="1114.70" stroke="#000" stroke-width="3.2"/>
<circle cx="1970.12" cy="1025.3" r="5.95" fill="#000"/>
<circle cx="1970.12" cy="1092.5" r="5.95" fill="#000"/>
<circle cx="1970.12" cy="1114.7" r="5.95" fill="#000"/>
<line x1="1982.59" y1="1025.30" x2="1982.59" y2="1092.50" stroke="#000" stroke-width="3.2"/>
<circle cx="1982.59" cy="1025.3" r="5.95" fill="#000"/>
<circle cx="1982.59" cy="1070.1" r="5.95" fill="#000"/>
<circle cx="1982.59" cy="1092.5" r="5.95" fill="#000"/>
<line x1="1995.06" y1="1047.70" x2="1995.06" y2="1092.50" stroke="#000" stroke-width="3.2"/>
<circle cx="1995.06" cy="1047.7" r="5.95" fill="#000"/>
<circle cx="1995.06" cy="1070.1" r="5.95" fill="#000"/>
<circle cx="1995.06" cy="1092.5" r="5.95" fill="#000"/>
<line x1="2007.53" y1="1002.90" x2="2007.53" y2="1114.70" stroke="#000" stroke-width="3.2"/>
<circle cx="2007.53" cy="1002.9" r="5.95" fill="#000"/>
<circle cx="2007.53" cy="1025.3" r="5.95" fill="#000"/>
<circle cx="2007.53" cy="1114.7" r="5.95" fill="#000"/>
<line x1="2020.00" y1="1025.30" x2="2020.00" y2="1070.10" stroke="#000" stroke-width="3.2"/>
<circle cx="2020.00" cy="1025.3" r="5.95" fill="#000"/>
<circle cx="2020.00" cy="1047.7" r="5.95" fill="#000"/>
<circle cx="2020.00" cy="1070.1" r="5.95" fill="#000"/>
<line x1="2032.47" y1="1002.90" x2="2032.47" y2="1070.10" stroke="#000" stroke-width="3.2"/>
<circle cx="2032.47" cy="1002.9" r="5.95" fill="#000"/>
<circle cx="2032.47" cy="1025.3" r="5.95" fill="#000"/>
<circle cx="2032.47" cy="1070.1" r="5.95" fill="#000"/>
<line x1="1259.60" y1="579.00" x2="1259.60" y2="991.40" stroke="#5c5c5c" stroke-width="1.15"/>
<line x1="1255.70" y1="990.80" x2="2045.00" y2="990.80" stroke="#000" stroke-width="1.4"/>
<line x1="1254.90" y1="990.40" x2="1259.60" y2="990.40" stroke="#333" stroke-width="1.3"/>
<text class="l" x="1251.60" y="993.50" font-size="13" text-anchor="end" fill="#3a3a3a">0</text>
<line x1="1254.90" y1="882.10" x2="1259.60" y2="882.10" stroke="#333" stroke-width="1.3"/>
<text class="l" x="1251.60" y="885.20" font-size="13" text-anchor="end" fill="#3a3a3a">250</text>
<line x1="1254.90" y1="773.80" x2="1259.60" y2="773.80" stroke="#333" stroke-width="1.3"/>
<text class="l" x="1251.60" y="776.90" font-size="13" text-anchor="end" fill="#3a3a3a">500</text>
<line x1="1254.90" y1="665.50" x2="1259.60" y2="665.50" stroke="#333" stroke-width="1.3"/>
<text class="l" x="1251.60" y="668.60" font-size="13" text-anchor="end" fill="#3a3a3a">750</text>
<text class="l" transform="translate(1161.40,794.00) rotate(-90)" font-size="20.4" text-anchor="middle">gene family intersection size</text>
<text class="l" x="1202.90" y="1008.90" font-size="17.6" text-anchor="middle">Tibetan</text>
<text class="l" x="1203.80" y="1031.30" font-size="17.6" text-anchor="middle">Meishan</text>
<text class="l" x="1203.50" y="1053.70" font-size="17.6" text-anchor="middle">Neijiang</text>
<text class="l" x="1202.50" y="1076.10" font-size="17.6" text-anchor="middle">Bamei</text>
<text class="l" x="1205.90" y="1098.50" font-size="17.6" text-anchor="middle">Rongchang</text>
<text class="l" x="1202.50" y="1120.70" font-size="17.6" text-anchor="middle">Jinhua</text>
<rect x="1607.90" y="652.20" width="296.00" height="14.50" fill="#FFFF33"/>
<text class="l" x="1978.00" y="667.40" font-size="23.8" text-anchor="middle">Tibetan</text>
<rect x="1606.30" y="682.10" width="297.60" height="14.50" fill="#FF7F00"/>
<text class="l" x="1979.20" y="697.30" font-size="23.8" text-anchor="middle">Meishan</text>
<rect x="1601.00" y="711.70" width="302.90" height="14.50" fill="#377EB8"/>
<text class="l" x="1978.70" y="726.90" font-size="23.8" text-anchor="middle">Neijiang</text>
<rect x="1596.00" y="741.40" width="307.90" height="14.50" fill="#B47FF4"/>
<text class="l" x="1976.80" y="756.60" font-size="23.8" text-anchor="middle">Bamei</text>
<rect x="1595.50" y="771.30" width="308.40" height="14.50" fill="#88F5C5"/>
<text class="l" x="1982.00" y="786.50" font-size="23.8" text-anchor="middle">Rongchang</text>
<rect x="1594.90" y="801.20" width="309.00" height="14.50" fill="#F99D9A"/>
<text class="l" x="1977.10" y="816.40" font-size="23.8" text-anchor="middle">Jinhua</text>
<line x1="1582.00" y1="824.00" x2="1918.00" y2="824.00" stroke="#111" stroke-width="1.5"/>
<line x1="1655.60" y1="824.00" x2="1655.60" y2="829.00" stroke="#111" stroke-width="1.5"/>
<text class="l" x="1655.60" y="846.00" font-size="14.7" text-anchor="middle" fill="#3a3a3a">15000</text>
<line x1="1737.90" y1="824.00" x2="1737.90" y2="829.00" stroke="#111" stroke-width="1.5"/>
<text class="l" x="1737.90" y="846.00" font-size="14.7" text-anchor="middle" fill="#3a3a3a">10000</text>
<line x1="1820.00" y1="824.00" x2="1820.00" y2="829.00" stroke="#111" stroke-width="1.5"/>
<text class="l" x="1820.00" y="846.00" font-size="14.7" text-anchor="middle" fill="#3a3a3a">5000</text>
<line x1="1902.60" y1="824.00" x2="1902.60" y2="829.00" stroke="#111" stroke-width="1.5"/>
<text class="l" x="1902.60" y="846.00" font-size="14.7" text-anchor="middle" fill="#3a3a3a">0</text>
<text class="l" x="1749.30" y="871.20" font-size="21.5" text-anchor="middle">gene family set number</text>
<rect x="2035.80" y="646.00" width="3.80" height="0.90" fill="#444"/>
</g>
</svg>
</body></html>
